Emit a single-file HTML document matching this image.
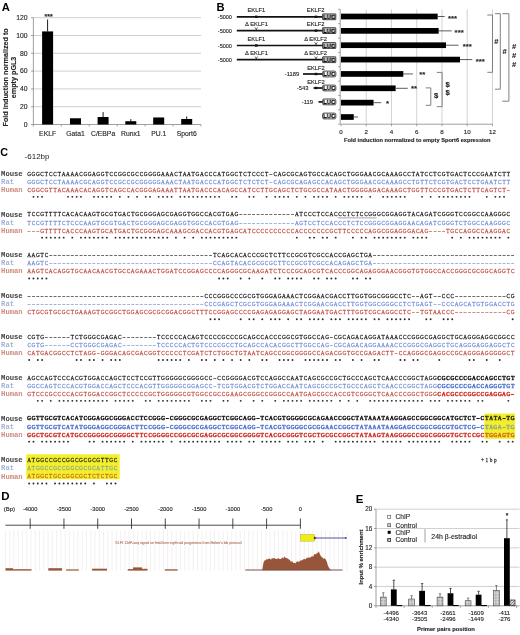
<!DOCTYPE html>
<html><head><meta charset="utf-8"><title>Figure</title>
<style>html,body{margin:0;padding:0;background:#fff;}svg{display:block;will-change:transform;}</style>
</head><body>
<svg width="520" height="635" viewBox="0 0 520 635">
<rect width="520" height="635" fill="#fff"/>
<text x="1.80" y="10.50" font-family="Liberation Sans" font-size="11.2" font-weight="bold" text-anchor="start" fill="#000" >A</text>
<line x1="31.00" y1="124.50" x2="33.40" y2="124.50" stroke="#888" stroke-width="0.8"/>
<text x="27.60" y="126.80" font-family="Liberation Sans" font-size="6.8" font-weight="normal" text-anchor="end" fill="#222"  stroke="#222" stroke-width="0.12">0</text>
<line x1="33.40" y1="106.70" x2="201.00" y2="106.70" stroke="#c4c4c4" stroke-width="0.8"/>
<line x1="31.00" y1="106.70" x2="33.40" y2="106.70" stroke="#888" stroke-width="0.8"/>
<text x="27.60" y="109.00" font-family="Liberation Sans" font-size="6.8" font-weight="normal" text-anchor="end" fill="#222"  stroke="#222" stroke-width="0.12">20</text>
<line x1="33.40" y1="88.90" x2="201.00" y2="88.90" stroke="#c4c4c4" stroke-width="0.8"/>
<line x1="31.00" y1="88.90" x2="33.40" y2="88.90" stroke="#888" stroke-width="0.8"/>
<text x="27.60" y="91.20" font-family="Liberation Sans" font-size="6.8" font-weight="normal" text-anchor="end" fill="#222"  stroke="#222" stroke-width="0.12">40</text>
<line x1="33.40" y1="71.10" x2="201.00" y2="71.10" stroke="#c4c4c4" stroke-width="0.8"/>
<line x1="31.00" y1="71.10" x2="33.40" y2="71.10" stroke="#888" stroke-width="0.8"/>
<text x="27.60" y="73.40" font-family="Liberation Sans" font-size="6.8" font-weight="normal" text-anchor="end" fill="#222"  stroke="#222" stroke-width="0.12">60</text>
<line x1="33.40" y1="53.30" x2="201.00" y2="53.30" stroke="#c4c4c4" stroke-width="0.8"/>
<line x1="31.00" y1="53.30" x2="33.40" y2="53.30" stroke="#888" stroke-width="0.8"/>
<text x="27.60" y="55.60" font-family="Liberation Sans" font-size="6.8" font-weight="normal" text-anchor="end" fill="#222"  stroke="#222" stroke-width="0.12">80</text>
<line x1="33.40" y1="35.50" x2="201.00" y2="35.50" stroke="#c4c4c4" stroke-width="0.8"/>
<line x1="31.00" y1="35.50" x2="33.40" y2="35.50" stroke="#888" stroke-width="0.8"/>
<text x="27.60" y="37.80" font-family="Liberation Sans" font-size="6.8" font-weight="normal" text-anchor="end" fill="#222"  stroke="#222" stroke-width="0.12">100</text>
<line x1="33.40" y1="17.70" x2="201.00" y2="17.70" stroke="#c4c4c4" stroke-width="0.8"/>
<line x1="31.00" y1="17.70" x2="33.40" y2="17.70" stroke="#888" stroke-width="0.8"/>
<text x="27.60" y="20.00" font-family="Liberation Sans" font-size="6.8" font-weight="normal" text-anchor="end" fill="#222"  stroke="#222" stroke-width="0.12">120</text>
<line x1="33.40" y1="17.70" x2="33.40" y2="124.50" stroke="#888" stroke-width="0.8"/>
<line x1="33.40" y1="124.50" x2="201.00" y2="124.50" stroke="#888" stroke-width="0.8"/>
<line x1="33.40" y1="124.50" x2="33.40" y2="126.50" stroke="#888" stroke-width="0.8"/>
<line x1="61.33" y1="124.50" x2="61.33" y2="126.50" stroke="#888" stroke-width="0.8"/>
<line x1="89.26" y1="124.50" x2="89.26" y2="126.50" stroke="#888" stroke-width="0.8"/>
<line x1="117.19" y1="124.50" x2="117.19" y2="126.50" stroke="#888" stroke-width="0.8"/>
<line x1="145.12" y1="124.50" x2="145.12" y2="126.50" stroke="#888" stroke-width="0.8"/>
<line x1="173.05" y1="124.50" x2="173.05" y2="126.50" stroke="#888" stroke-width="0.8"/>
<line x1="200.98" y1="124.50" x2="200.98" y2="126.50" stroke="#888" stroke-width="0.8"/>
<rect x="42.10" y="31.41" width="11.00" height="93.09" fill="#000" />
<line x1="47.60" y1="19.48" x2="47.60" y2="31.41" stroke="#000" stroke-width="0.9"/>
<text x="47.60" y="136.10" font-family="Liberation Sans" font-size="6.8" font-weight="normal" text-anchor="middle" fill="#222"  stroke="#222" stroke-width="0.12">EKLF</text>
<rect x="70.00" y="118.27" width="11.00" height="6.23" fill="#000" />
<text x="75.50" y="136.10" font-family="Liberation Sans" font-size="6.8" font-weight="normal" text-anchor="middle" fill="#222"  stroke="#222" stroke-width="0.12">Gata1</text>
<rect x="97.60" y="117.02" width="11.00" height="7.48" fill="#000" />
<line x1="103.10" y1="112.04" x2="103.10" y2="117.02" stroke="#000" stroke-width="0.9"/>
<text x="103.10" y="136.10" font-family="Liberation Sans" font-size="6.8" font-weight="normal" text-anchor="middle" fill="#222"  stroke="#222" stroke-width="0.12">C/EBPa</text>
<rect x="125.30" y="121.21" width="11.00" height="3.29" fill="#000" />
<line x1="130.80" y1="119.16" x2="130.80" y2="121.21" stroke="#000" stroke-width="0.9"/>
<text x="130.80" y="136.10" font-family="Liberation Sans" font-size="6.8" font-weight="normal" text-anchor="middle" fill="#222"  stroke="#222" stroke-width="0.12">Runx1</text>
<rect x="153.20" y="117.47" width="11.00" height="7.03" fill="#000" />
<text x="158.70" y="136.10" font-family="Liberation Sans" font-size="6.8" font-weight="normal" text-anchor="middle" fill="#222"  stroke="#222" stroke-width="0.12">PU.1</text>
<rect x="181.20" y="118.98" width="11.00" height="5.52" fill="#000" />
<line x1="186.70" y1="116.49" x2="186.70" y2="118.98" stroke="#000" stroke-width="0.9"/>
<text x="186.70" y="136.10" font-family="Liberation Sans" font-size="6.8" font-weight="normal" text-anchor="middle" fill="#222"  stroke="#222" stroke-width="0.12">Sport6</text>
<text x="48.60" y="18.80" font-family="Liberation Sans" font-size="7.0" font-weight="bold" text-anchor="middle" fill="#222"  stroke="#222" stroke-width="0.12">***</text>
<g transform="translate(7.8,77.4) rotate(-90)">
<text x="0.00" y="0.00" font-family="Liberation Sans" font-size="7.2" font-weight="bold" text-anchor="middle" fill="#222"  stroke="#222" stroke-width="0.12">Fold induction normalized to</text>
<text x="0.00" y="8.60" font-family="Liberation Sans" font-size="7.2" font-weight="bold" text-anchor="middle" fill="#222"  stroke="#222" stroke-width="0.12">empty pGL3</text>
</g>
<text x="216.40" y="10.60" font-family="Liberation Sans" font-size="11.2" font-weight="bold" text-anchor="start" fill="#000" >B</text>
<line x1="366.24" y1="9.30" x2="366.24" y2="124.20" stroke="#c8c8c8" stroke-width="0.8"/>
<line x1="391.48" y1="9.30" x2="391.48" y2="124.20" stroke="#c8c8c8" stroke-width="0.8"/>
<line x1="416.72" y1="9.30" x2="416.72" y2="124.20" stroke="#c8c8c8" stroke-width="0.8"/>
<line x1="441.96" y1="9.30" x2="441.96" y2="124.20" stroke="#c8c8c8" stroke-width="0.8"/>
<line x1="467.20" y1="9.30" x2="467.20" y2="124.20" stroke="#c8c8c8" stroke-width="0.8"/>
<line x1="492.44" y1="9.30" x2="492.44" y2="124.20" stroke="#c8c8c8" stroke-width="0.8"/>
<line x1="340.20" y1="9.30" x2="340.20" y2="124.20" stroke="#888" stroke-width="0.8"/>
<line x1="341.00" y1="124.20" x2="492.44" y2="124.20" stroke="#888" stroke-width="0.8"/>
<line x1="338.20" y1="9.30" x2="340.20" y2="9.30" stroke="#888" stroke-width="0.8"/>
<line x1="338.20" y1="23.66" x2="340.20" y2="23.66" stroke="#888" stroke-width="0.8"/>
<line x1="338.20" y1="38.02" x2="340.20" y2="38.02" stroke="#888" stroke-width="0.8"/>
<line x1="338.20" y1="52.38" x2="340.20" y2="52.38" stroke="#888" stroke-width="0.8"/>
<line x1="338.20" y1="66.74" x2="340.20" y2="66.74" stroke="#888" stroke-width="0.8"/>
<line x1="338.20" y1="81.10" x2="340.20" y2="81.10" stroke="#888" stroke-width="0.8"/>
<line x1="338.20" y1="95.46" x2="340.20" y2="95.46" stroke="#888" stroke-width="0.8"/>
<line x1="338.20" y1="109.82" x2="340.20" y2="109.82" stroke="#888" stroke-width="0.8"/>
<line x1="338.20" y1="124.18" x2="340.20" y2="124.18" stroke="#888" stroke-width="0.8"/>
<line x1="341.00" y1="124.20" x2="341.00" y2="126.20" stroke="#888" stroke-width="0.8"/>
<text x="341.00" y="133.60" font-family="Liberation Sans" font-size="6.2" font-weight="normal" text-anchor="middle" fill="#222"  stroke="#222" stroke-width="0.12">0</text>
<line x1="366.24" y1="124.20" x2="366.24" y2="126.20" stroke="#888" stroke-width="0.8"/>
<text x="366.24" y="133.60" font-family="Liberation Sans" font-size="6.2" font-weight="normal" text-anchor="middle" fill="#222"  stroke="#222" stroke-width="0.12">2</text>
<line x1="391.48" y1="124.20" x2="391.48" y2="126.20" stroke="#888" stroke-width="0.8"/>
<text x="391.48" y="133.60" font-family="Liberation Sans" font-size="6.2" font-weight="normal" text-anchor="middle" fill="#222"  stroke="#222" stroke-width="0.12">4</text>
<line x1="416.72" y1="124.20" x2="416.72" y2="126.20" stroke="#888" stroke-width="0.8"/>
<text x="416.72" y="133.60" font-family="Liberation Sans" font-size="6.2" font-weight="normal" text-anchor="middle" fill="#222"  stroke="#222" stroke-width="0.12">6</text>
<line x1="441.96" y1="124.20" x2="441.96" y2="126.20" stroke="#888" stroke-width="0.8"/>
<text x="441.96" y="133.60" font-family="Liberation Sans" font-size="6.2" font-weight="normal" text-anchor="middle" fill="#222"  stroke="#222" stroke-width="0.12">8</text>
<line x1="467.20" y1="124.20" x2="467.20" y2="126.20" stroke="#888" stroke-width="0.8"/>
<text x="467.20" y="133.60" font-family="Liberation Sans" font-size="6.2" font-weight="normal" text-anchor="middle" fill="#222"  stroke="#222" stroke-width="0.12">10</text>
<line x1="492.44" y1="124.20" x2="492.44" y2="126.20" stroke="#888" stroke-width="0.8"/>
<text x="492.44" y="133.60" font-family="Liberation Sans" font-size="6.2" font-weight="normal" text-anchor="middle" fill="#222"  stroke="#222" stroke-width="0.12">12</text>
<text x="417.30" y="142.00" font-family="Liberation Sans" font-size="5.67" font-weight="bold" text-anchor="middle" fill="#222"  stroke="#222" stroke-width="0.12">Fold induction normalized to empty Sport6 expression</text>
<rect x="341.00" y="13.65" width="96.67" height="5.70" fill="#000" />
<line x1="437.67" y1="16.50" x2="444.61" y2="16.50" stroke="#333" stroke-width="0.8"/>
<text x="447.90" y="20.60" font-family="Liberation Sans" font-size="7.8" font-weight="bold" text-anchor="start" fill="#222"  stroke="#222" stroke-width="0.12">***</text>
<rect x="341.00" y="28.01" width="97.68" height="5.70" fill="#000" />
<line x1="438.68" y1="30.86" x2="451.68" y2="30.86" stroke="#333" stroke-width="0.8"/>
<text x="454.60" y="34.96" font-family="Liberation Sans" font-size="7.8" font-weight="bold" text-anchor="start" fill="#222"  stroke="#222" stroke-width="0.12">***</text>
<rect x="341.00" y="42.37" width="105.00" height="5.70" fill="#000" />
<line x1="446.00" y1="45.22" x2="458.49" y2="45.22" stroke="#333" stroke-width="0.8"/>
<text x="462.70" y="49.32" font-family="Liberation Sans" font-size="7.8" font-weight="bold" text-anchor="start" fill="#222"  stroke="#222" stroke-width="0.12">***</text>
<rect x="341.00" y="56.73" width="119.01" height="5.70" fill="#000" />
<line x1="460.01" y1="59.58" x2="472.25" y2="59.58" stroke="#333" stroke-width="0.8"/>
<text x="475.80" y="63.68" font-family="Liberation Sans" font-size="7.8" font-weight="bold" text-anchor="start" fill="#222"  stroke="#222" stroke-width="0.12">***</text>
<rect x="341.00" y="71.09" width="62.34" height="5.70" fill="#000" />
<line x1="403.34" y1="73.94" x2="412.93" y2="73.94" stroke="#333" stroke-width="0.8"/>
<text x="419.20" y="76.84" font-family="Liberation Sans" font-size="7.8" font-weight="bold" text-anchor="start" fill="#222"  stroke="#222" stroke-width="0.12">**</text>
<rect x="341.00" y="85.45" width="54.64" height="5.70" fill="#000" />
<line x1="395.64" y1="88.30" x2="407.76" y2="88.30" stroke="#333" stroke-width="0.8"/>
<text x="411.00" y="91.20" font-family="Liberation Sans" font-size="7.8" font-weight="bold" text-anchor="start" fill="#222"  stroke="#222" stroke-width="0.12">**</text>
<rect x="341.00" y="99.81" width="32.56" height="5.70" fill="#000" />
<line x1="373.56" y1="102.66" x2="381.26" y2="102.66" stroke="#333" stroke-width="0.8"/>
<text x="386.00" y="105.56" font-family="Liberation Sans" font-size="7.8" font-weight="bold" text-anchor="start" fill="#222"  stroke="#222" stroke-width="0.12">*</text>
<rect x="341.00" y="114.17" width="12.75" height="5.70" fill="#000" />
<line x1="353.75" y1="117.02" x2="358.04" y2="117.02" stroke="#333" stroke-width="0.8"/>
<text x="231.90" y="18.80" font-family="Liberation Sans" font-size="5.5" font-weight="normal" text-anchor="end" fill="#222"  stroke="#222" stroke-width="0.12">-5000</text>
<line x1="236.80" y1="16.80" x2="322.60" y2="16.80" stroke="#111" stroke-width="1.7"/>
<text x="256.30" y="12.00" font-family="Liberation Sans" font-size="5.8" font-weight="normal" text-anchor="middle" fill="#222"  stroke="#222" stroke-width="0.12">EKLF1</text>
<rect x="255.00" y="15.60" width="2.60" height="2.40" fill="#111" />
<text x="315.70" y="12.00" font-family="Liberation Sans" font-size="5.8" font-weight="normal" text-anchor="middle" fill="#222"  stroke="#222" stroke-width="0.12">EKLF2</text>
<rect x="314.70" y="15.60" width="2.60" height="2.40" fill="#111" />
<rect x="322.60" y="13.90" width="13.2" height="5.8" rx="0.3" fill="#c4c4c4" stroke="#222" stroke-width="0.8"/>
<text x="329.20" y="19.00" font-family="Liberation Sans" font-size="6.0" font-weight="bold" text-anchor="middle" fill="#f4f4f4" stroke="#111" stroke-width="0.55">LUC</text>
<text x="231.90" y="32.60" font-family="Liberation Sans" font-size="5.5" font-weight="normal" text-anchor="end" fill="#222"  stroke="#222" stroke-width="0.12">-5000</text>
<line x1="236.80" y1="30.60" x2="322.60" y2="30.60" stroke="#111" stroke-width="1.7"/>
<text x="245.00" y="26.30" font-family="Liberation Sans" font-size="5.8" font-weight="normal" text-anchor="start" fill="#222"  stroke="#222" stroke-width="0.12">Δ EKLF1</text>
<polyline points="255.00,27.40 256.30,29.40 257.60,27.40" fill="none" stroke="#222" stroke-width="0.7"/>
<line x1="256.30" y1="29.00" x2="256.30" y2="30.00" stroke="#222" stroke-width="0.7"/>
<text x="315.70" y="25.80" font-family="Liberation Sans" font-size="5.8" font-weight="normal" text-anchor="middle" fill="#222"  stroke="#222" stroke-width="0.12">EKLF2</text>
<rect x="314.70" y="29.40" width="2.60" height="2.40" fill="#111" />
<rect x="322.60" y="27.70" width="13.2" height="5.8" rx="0.3" fill="#c4c4c4" stroke="#222" stroke-width="0.8"/>
<text x="329.20" y="32.80" font-family="Liberation Sans" font-size="6.0" font-weight="bold" text-anchor="middle" fill="#f4f4f4" stroke="#111" stroke-width="0.55">LUC</text>
<text x="231.90" y="47.50" font-family="Liberation Sans" font-size="5.5" font-weight="normal" text-anchor="end" fill="#222"  stroke="#222" stroke-width="0.12">-5000</text>
<line x1="236.80" y1="45.50" x2="322.60" y2="45.50" stroke="#111" stroke-width="1.7"/>
<text x="256.30" y="40.70" font-family="Liberation Sans" font-size="5.8" font-weight="normal" text-anchor="middle" fill="#222"  stroke="#222" stroke-width="0.12">EKLF1</text>
<rect x="255.00" y="44.30" width="2.60" height="2.40" fill="#111" />
<text x="304.20" y="41.20" font-family="Liberation Sans" font-size="5.8" font-weight="normal" text-anchor="start" fill="#222"  stroke="#222" stroke-width="0.12">Δ EKLF2</text>
<polyline points="314.70,42.30 316.00,44.30 317.30,42.30" fill="none" stroke="#222" stroke-width="0.7"/>
<line x1="316.00" y1="43.90" x2="316.00" y2="44.90" stroke="#222" stroke-width="0.7"/>
<rect x="322.60" y="42.60" width="13.2" height="5.8" rx="0.3" fill="#c4c4c4" stroke="#222" stroke-width="0.8"/>
<text x="329.20" y="47.70" font-family="Liberation Sans" font-size="6.0" font-weight="bold" text-anchor="middle" fill="#f4f4f4" stroke="#111" stroke-width="0.55">LUC</text>
<text x="231.90" y="61.70" font-family="Liberation Sans" font-size="5.5" font-weight="normal" text-anchor="end" fill="#222"  stroke="#222" stroke-width="0.12">-5000</text>
<line x1="236.80" y1="59.70" x2="322.60" y2="59.70" stroke="#111" stroke-width="1.7"/>
<text x="245.00" y="55.40" font-family="Liberation Sans" font-size="5.8" font-weight="normal" text-anchor="start" fill="#222"  stroke="#222" stroke-width="0.12">Δ EKLF1</text>
<polyline points="255.00,56.50 256.30,58.50 257.60,56.50" fill="none" stroke="#222" stroke-width="0.7"/>
<line x1="256.30" y1="58.10" x2="256.30" y2="59.10" stroke="#222" stroke-width="0.7"/>
<text x="304.20" y="55.40" font-family="Liberation Sans" font-size="5.8" font-weight="normal" text-anchor="start" fill="#222"  stroke="#222" stroke-width="0.12">Δ EKLF2</text>
<polyline points="314.70,56.50 316.00,58.50 317.30,56.50" fill="none" stroke="#222" stroke-width="0.7"/>
<line x1="316.00" y1="58.10" x2="316.00" y2="59.10" stroke="#222" stroke-width="0.7"/>
<rect x="322.60" y="56.80" width="13.2" height="5.8" rx="0.3" fill="#c4c4c4" stroke="#222" stroke-width="0.8"/>
<text x="329.20" y="61.90" font-family="Liberation Sans" font-size="6.0" font-weight="bold" text-anchor="middle" fill="#f4f4f4" stroke="#111" stroke-width="0.55">LUC</text>
<text x="299.20" y="76.10" font-family="Liberation Sans" font-size="5.8" font-weight="normal" text-anchor="end" fill="#222"  stroke="#222" stroke-width="0.12">-1189</text>
<line x1="303.00" y1="74.00" x2="322.60" y2="74.00" stroke="#111" stroke-width="1.7"/>
<text x="316.00" y="69.70" font-family="Liberation Sans" font-size="5.8" font-weight="normal" text-anchor="middle" fill="#222"  stroke="#222" stroke-width="0.12">EKLF2</text>
<rect x="314.70" y="72.80" width="2.60" height="2.40" fill="#111" />
<rect x="322.60" y="71.10" width="13.2" height="5.8" rx="1.3" fill="#fff" stroke="#222" stroke-width="0.8"/>
<text x="329.20" y="76.20" font-family="Liberation Sans" font-size="6.0" font-weight="bold" text-anchor="middle" fill="#f4f4f4" stroke="#111" stroke-width="0.55">LUC</text>
<text x="308.50" y="90.10" font-family="Liberation Sans" font-size="5.8" font-weight="normal" text-anchor="end" fill="#222"  stroke="#222" stroke-width="0.12">-543</text>
<line x1="313.50" y1="88.00" x2="322.60" y2="88.00" stroke="#111" stroke-width="1.7"/>
<text x="316.00" y="83.70" font-family="Liberation Sans" font-size="5.8" font-weight="normal" text-anchor="middle" fill="#222"  stroke="#222" stroke-width="0.12">EKLF2</text>
<rect x="314.70" y="86.80" width="2.60" height="2.40" fill="#111" />
<rect x="322.60" y="85.10" width="13.2" height="5.8" rx="1.3" fill="#fff" stroke="#222" stroke-width="0.8"/>
<text x="329.20" y="90.20" font-family="Liberation Sans" font-size="6.0" font-weight="bold" text-anchor="middle" fill="#f4f4f4" stroke="#111" stroke-width="0.55">LUC</text>
<text x="313.00" y="104.00" font-family="Liberation Sans" font-size="5.8" font-weight="normal" text-anchor="end" fill="#222"  stroke="#222" stroke-width="0.12">-119</text>
<line x1="318.50" y1="101.90" x2="322.60" y2="101.90" stroke="#111" stroke-width="1.7"/>
<rect x="322.60" y="99.00" width="13.2" height="5.8" rx="1.3" fill="#fff" stroke="#222" stroke-width="0.8"/>
<text x="329.20" y="104.10" font-family="Liberation Sans" font-size="6.0" font-weight="bold" text-anchor="middle" fill="#f4f4f4" stroke="#111" stroke-width="0.55">LUC</text>
<rect x="322.60" y="113.10" width="13.2" height="5.8" rx="1.3" fill="#fff" stroke="#222" stroke-width="0.8"/>
<text x="329.20" y="118.20" font-family="Liberation Sans" font-size="6.0" font-weight="bold" text-anchor="middle" fill="#f4f4f4" stroke="#111" stroke-width="0.55">LUC</text>
<polyline points="487.30,15.00 492.50,15.00 492.50,72.30 487.30,72.30" fill="none" stroke="#808080" stroke-width="1.0"/>
<text x="496.30" y="43.74" font-family="Liberation Sans" font-size="7.6" font-weight="bold" text-anchor="middle" fill="#222"  stroke="#222" stroke-width="0.12">#</text>
<polyline points="495.00,13.70 500.30,13.70 500.30,89.20 495.00,89.20" fill="none" stroke="#808080" stroke-width="1.0"/>
<text x="504.50" y="53.64" font-family="Liberation Sans" font-size="7.6" font-weight="bold" text-anchor="middle" fill="#222"  stroke="#222" stroke-width="0.12">#</text>
<polyline points="502.30,13.70 508.90,13.70 508.90,101.20 502.30,101.20" fill="none" stroke="#808080" stroke-width="1.0"/>
<text x="514.10" y="49.44" font-family="Liberation Sans" font-size="7.6" font-weight="bold" text-anchor="middle" fill="#222"  stroke="#222" stroke-width="0.12">#</text>
<text x="514.10" y="58.24" font-family="Liberation Sans" font-size="7.6" font-weight="bold" text-anchor="middle" fill="#222"  stroke="#222" stroke-width="0.12">#</text>
<text x="514.10" y="66.74" font-family="Liberation Sans" font-size="7.6" font-weight="bold" text-anchor="middle" fill="#222"  stroke="#222" stroke-width="0.12">#</text>
<polyline points="425.70,87.90 430.80,87.90 430.80,105.30 425.70,105.30" fill="none" stroke="#808080" stroke-width="1.0"/>
<text x="436.20" y="98.41" font-family="Liberation Sans" font-size="7.8" font-weight="bold" text-anchor="middle" fill="#222"  stroke="#222" stroke-width="0.12">$</text>
<polyline points="436.80,72.40 442.10,72.40 442.10,106.70 436.80,106.70" fill="none" stroke="#808080" stroke-width="1.0"/>
<text x="447.60" y="86.71" font-family="Liberation Sans" font-size="7.8" font-weight="bold" text-anchor="middle" fill="#222"  stroke="#222" stroke-width="0.12">$</text>
<text x="447.60" y="95.41" font-family="Liberation Sans" font-size="7.8" font-weight="bold" text-anchor="middle" fill="#222"  stroke="#222" stroke-width="0.12">$</text>
<text x="0.2" y="155.6" font-family="Liberation Sans" font-size="10.8" font-weight="bold">C</text>
<text x="24.6" y="159.4" font-family="Liberation Sans" font-size="8.0" fill="#222">-612bp</text>
<rect x="484.30" y="413.5" width="30.82" height="25.3" fill="#f2f02c"/>
<rect x="26.3" y="454.3" width="93.4" height="25.0" fill="#f2f02c"/>
<text x="1.10" y="175.70" font-family="Liberation Mono" font-size="7.194" font-weight="bold" fill="#3c3c3c">Mouse</text>
<text transform="scale(0.82,1)" x="35.56 40.82 46.09 51.35 56.62 61.88 67.15 72.41 77.68 82.94 88.21 93.47 98.73 104.00 109.26 114.53 119.79 125.06 130.32 135.59 140.85 146.12 151.38 156.65 161.91 167.18 172.44 177.70 182.97 188.23 193.50 198.76 204.03 209.29 214.56 219.82 225.09 230.35 235.62 240.88 246.14 251.41 256.67 261.94 267.20 272.47 277.73 283.00 288.26 293.53 298.79 304.06 309.32 314.58 319.85 325.11 330.38 335.64 340.91 346.17 351.44 356.70 361.97 367.23 372.50 377.76 383.03 388.29 393.55 398.82 404.08 409.35 414.61 419.88 425.14 430.41 435.67 440.94 446.20 451.47 456.73 461.99 467.26 472.52 477.79 483.05 488.32 493.58 498.85 504.11 509.38 514.64 519.91 525.17 530.43 535.70 540.96 546.23 551.49 556.76 562.02 567.29 572.55 577.82 583.08 588.35 593.61 598.88 604.14 609.40 614.67 619.93" y="175.70" font-family="Liberation Serif" font-size="6.4" font-weight="normal" text-anchor="middle" fill="#222222" stroke="#222222" stroke-width="0.25">GGGCTCCTAAAACGGAGGTCCGGCGCCGGGGAAACTAATGACCCATGGCTCTCCCT–CAGCGCAGTGCCACAGCTGGGAACGCAAAGCCTATCCTCGTGACTCCCGAATCTT</text>
<text x="1.10" y="183.75" font-family="Liberation Mono" font-size="7.194" font-weight="bold" fill="#a2b3d6">Rat</text>
<text transform="scale(0.82,1)" x="35.56 40.82 46.09 51.35 56.62 61.88 67.15 72.41 77.68 82.94 88.21 93.47 98.73 104.00 109.26 114.53 119.79 125.06 130.32 135.59 140.85 146.12 151.38 156.65 161.91 167.18 172.44 177.70 182.97 188.23 193.50 198.76 204.03 209.29 214.56 219.82 225.09 230.35 235.62 240.88 246.14 251.41 256.67 261.94 267.20 272.47 277.73 283.00 288.26 293.53 298.79 304.06 309.32 314.58 319.85 325.11 330.38 335.64 340.91 346.17 351.44 356.70 361.97 367.23 372.50 377.76 383.03 388.29 393.55 398.82 404.08 409.35 414.61 419.88 425.14 430.41 435.67 440.94 446.20 451.47 456.73 461.99 467.26 472.52 477.79 483.05 488.32 493.58 498.85 504.11 509.38 514.64 519.91 525.17 530.43 535.70 540.96 546.23 551.49 556.76 562.02 567.29 572.55 577.82 583.08 588.35 593.61 598.88 604.14 609.40 614.67 619.93" y="183.75" font-family="Liberation Serif" font-size="6.4" font-weight="normal" text-anchor="middle" fill="#7592d6" stroke="#7592d6" stroke-width="0.25">GGGCTCCTAAAACGCAGGTCCGCCGCGGGGGAAACTAATGACCCATGGCTCTCTCT–CAGCGCAGAGCCACAGCTGGGAACGCAAAGCCTGTTCTCGTGACTCCTGAATCTT</text>
<text x="1.10" y="191.80" font-family="Liberation Mono" font-size="7.194" font-weight="bold" fill="#cf8a7e">Human</text>
<text transform="scale(0.82,1)" x="35.56 40.82 46.09 51.35 56.62 61.88 67.15 72.41 77.68 82.94 88.21 93.47 98.73 104.00 109.26 114.53 119.79 125.06 130.32 135.59 140.85 146.12 151.38 156.65 161.91 167.18 172.44 177.70 182.97 188.23 193.50 198.76 204.03 209.29 214.56 219.82 225.09 230.35 235.62 240.88 246.14 251.41 256.67 261.94 267.20 272.47 277.73 283.00 288.26 293.53 298.79 304.06 309.32 314.58 319.85 325.11 330.38 335.64 340.91 346.17 351.44 356.70 361.97 367.23 372.50 377.76 383.03 388.29 393.55 398.82 404.08 409.35 414.61 419.88 425.14 430.41 435.67 440.94 446.20 451.47 456.73 461.99 467.26 472.52 477.79 483.05 488.32 493.58 498.85 504.11 509.38 514.64 519.91 525.17 530.43 535.70 540.96 546.23 551.49 556.76 562.02 567.29 572.55 577.82 583.08 588.35 593.61 598.88 604.14 609.40 614.67 619.93" y="191.80" font-family="Liberation Serif" font-size="6.4" font-weight="normal" text-anchor="middle" fill="#c0554b" stroke="#c0554b" stroke-width="0.25">CGGCGTTACAAACACAGGTCAGCCACGGGAGAAATTAATGACCCACAGCCATCCTTGCAGCTCTGCGCCATAACTGGGGAGACAAAGCTGGTTCCCGTGACTCTTCAGTCT–</text>
<circle cx="33.48" cy="196.85" r="0.95" fill="#2a2a2a"/>
<circle cx="37.79" cy="196.85" r="0.95" fill="#2a2a2a"/>
<circle cx="42.11" cy="196.85" r="0.95" fill="#2a2a2a"/>
<circle cx="68.01" cy="196.85" r="0.95" fill="#2a2a2a"/>
<circle cx="72.33" cy="196.85" r="0.95" fill="#2a2a2a"/>
<circle cx="76.65" cy="196.85" r="0.95" fill="#2a2a2a"/>
<circle cx="80.96" cy="196.85" r="0.95" fill="#2a2a2a"/>
<circle cx="93.91" cy="196.85" r="0.95" fill="#2a2a2a"/>
<circle cx="98.23" cy="196.85" r="0.95" fill="#2a2a2a"/>
<circle cx="102.55" cy="196.85" r="0.95" fill="#2a2a2a"/>
<circle cx="106.86" cy="196.85" r="0.95" fill="#2a2a2a"/>
<circle cx="111.18" cy="196.85" r="0.95" fill="#2a2a2a"/>
<circle cx="119.82" cy="196.85" r="0.95" fill="#2a2a2a"/>
<circle cx="128.45" cy="196.85" r="0.95" fill="#2a2a2a"/>
<circle cx="137.08" cy="196.85" r="0.95" fill="#2a2a2a"/>
<circle cx="145.72" cy="196.85" r="0.95" fill="#2a2a2a"/>
<circle cx="150.03" cy="196.85" r="0.95" fill="#2a2a2a"/>
<circle cx="158.67" cy="196.85" r="0.95" fill="#2a2a2a"/>
<circle cx="162.99" cy="196.85" r="0.95" fill="#2a2a2a"/>
<circle cx="167.30" cy="196.85" r="0.95" fill="#2a2a2a"/>
<circle cx="171.62" cy="196.85" r="0.95" fill="#2a2a2a"/>
<circle cx="180.25" cy="196.85" r="0.95" fill="#2a2a2a"/>
<circle cx="184.57" cy="196.85" r="0.95" fill="#2a2a2a"/>
<circle cx="188.89" cy="196.85" r="0.95" fill="#2a2a2a"/>
<circle cx="193.20" cy="196.85" r="0.95" fill="#2a2a2a"/>
<circle cx="197.52" cy="196.85" r="0.95" fill="#2a2a2a"/>
<circle cx="201.84" cy="196.85" r="0.95" fill="#2a2a2a"/>
<circle cx="206.16" cy="196.85" r="0.95" fill="#2a2a2a"/>
<circle cx="210.47" cy="196.85" r="0.95" fill="#2a2a2a"/>
<circle cx="214.79" cy="196.85" r="0.95" fill="#2a2a2a"/>
<circle cx="219.11" cy="196.85" r="0.95" fill="#2a2a2a"/>
<circle cx="232.06" cy="196.85" r="0.95" fill="#2a2a2a"/>
<circle cx="236.37" cy="196.85" r="0.95" fill="#2a2a2a"/>
<circle cx="249.33" cy="196.85" r="0.95" fill="#2a2a2a"/>
<circle cx="253.64" cy="196.85" r="0.95" fill="#2a2a2a"/>
<circle cx="266.59" cy="196.85" r="0.95" fill="#2a2a2a"/>
<circle cx="275.23" cy="196.85" r="0.95" fill="#2a2a2a"/>
<circle cx="279.54" cy="196.85" r="0.95" fill="#2a2a2a"/>
<circle cx="283.86" cy="196.85" r="0.95" fill="#2a2a2a"/>
<circle cx="288.18" cy="196.85" r="0.95" fill="#2a2a2a"/>
<circle cx="296.81" cy="196.85" r="0.95" fill="#2a2a2a"/>
<circle cx="305.45" cy="196.85" r="0.95" fill="#2a2a2a"/>
<circle cx="314.08" cy="196.85" r="0.95" fill="#2a2a2a"/>
<circle cx="318.40" cy="196.85" r="0.95" fill="#2a2a2a"/>
<circle cx="322.71" cy="196.85" r="0.95" fill="#2a2a2a"/>
<circle cx="327.03" cy="196.85" r="0.95" fill="#2a2a2a"/>
<circle cx="335.67" cy="196.85" r="0.95" fill="#2a2a2a"/>
<circle cx="344.30" cy="196.85" r="0.95" fill="#2a2a2a"/>
<circle cx="348.62" cy="196.85" r="0.95" fill="#2a2a2a"/>
<circle cx="352.93" cy="196.85" r="0.95" fill="#2a2a2a"/>
<circle cx="357.25" cy="196.85" r="0.95" fill="#2a2a2a"/>
<circle cx="361.57" cy="196.85" r="0.95" fill="#2a2a2a"/>
<circle cx="370.20" cy="196.85" r="0.95" fill="#2a2a2a"/>
<circle cx="383.15" cy="196.85" r="0.95" fill="#2a2a2a"/>
<circle cx="387.47" cy="196.85" r="0.95" fill="#2a2a2a"/>
<circle cx="391.79" cy="196.85" r="0.95" fill="#2a2a2a"/>
<circle cx="396.10" cy="196.85" r="0.95" fill="#2a2a2a"/>
<circle cx="400.42" cy="196.85" r="0.95" fill="#2a2a2a"/>
<circle cx="404.74" cy="196.85" r="0.95" fill="#2a2a2a"/>
<circle cx="422.01" cy="196.85" r="0.95" fill="#2a2a2a"/>
<circle cx="430.64" cy="196.85" r="0.95" fill="#2a2a2a"/>
<circle cx="439.27" cy="196.85" r="0.95" fill="#2a2a2a"/>
<circle cx="443.59" cy="196.85" r="0.95" fill="#2a2a2a"/>
<circle cx="447.91" cy="196.85" r="0.95" fill="#2a2a2a"/>
<circle cx="452.22" cy="196.85" r="0.95" fill="#2a2a2a"/>
<circle cx="456.54" cy="196.85" r="0.95" fill="#2a2a2a"/>
<circle cx="460.86" cy="196.85" r="0.95" fill="#2a2a2a"/>
<circle cx="465.18" cy="196.85" r="0.95" fill="#2a2a2a"/>
<circle cx="469.49" cy="196.85" r="0.95" fill="#2a2a2a"/>
<circle cx="486.76" cy="196.85" r="0.95" fill="#2a2a2a"/>
<circle cx="495.39" cy="196.85" r="0.95" fill="#2a2a2a"/>
<circle cx="499.71" cy="196.85" r="0.95" fill="#2a2a2a"/>
<circle cx="504.03" cy="196.85" r="0.95" fill="#2a2a2a"/>
<text x="1.10" y="216.50" font-family="Liberation Mono" font-size="7.194" font-weight="bold" fill="#3c3c3c">Mouse</text>
<text transform="scale(0.82,1)" x="35.56 40.82 46.09 51.35 56.62 61.88 67.15 72.41 77.68 82.94 88.21 93.47 98.73 104.00 109.26 114.53 119.79 125.06 130.32 135.59 140.85 146.12 151.38 156.65 161.91 167.18 172.44 177.70 182.97 188.23 193.50 198.76 204.03 209.29 214.56 219.82 225.09 230.35 235.62 240.88 246.14 251.41 256.67 261.94 267.20 272.47 277.73 283.00 288.26 293.53 298.79 304.06 309.32 314.58 319.85 325.11 330.38 335.64 340.91 346.17 351.44 356.70 361.97 367.23 372.50 377.76 383.03 388.29 393.55 398.82 404.08 409.35 414.61 419.88 425.14 430.41 435.67 440.94 446.20 451.47 456.73 461.99 467.26 472.52 477.79 483.05 488.32 493.58 498.85 504.11 509.38 514.64 519.91 525.17 530.43 535.70 540.96 546.23 551.49 556.76 562.02 567.29 572.55 577.82 583.08 588.35 593.61 598.88 604.14 609.40 614.67 619.93" y="216.50" font-family="Liberation Serif" font-size="6.4" font-weight="normal" text-anchor="middle" fill="#222222" stroke="#222222" stroke-width="0.25">TCCGTTTTCACACAAGTGCGTGACTGCGGGAGCGAGGTGGCCACGTGAG–––––––––––––ATCCCTCCACCCTCTCCGGGCGGAGGTACAGATCGGGTCCGGCCAAGGGC</text>
<text x="1.10" y="224.55" font-family="Liberation Mono" font-size="7.194" font-weight="bold" fill="#a2b3d6">Rat</text>
<text transform="scale(0.82,1)" x="35.56 40.82 46.09 51.35 56.62 61.88 67.15 72.41 77.68 82.94 88.21 93.47 98.73 104.00 109.26 114.53 119.79 125.06 130.32 135.59 140.85 146.12 151.38 156.65 161.91 167.18 172.44 177.70 182.97 188.23 193.50 198.76 204.03 209.29 214.56 219.82 225.09 230.35 235.62 240.88 246.14 251.41 256.67 261.94 267.20 272.47 277.73 283.00 288.26 293.53 298.79 304.06 309.32 314.58 319.85 325.11 330.38 335.64 340.91 346.17 351.44 356.70 361.97 367.23 372.50 377.76 383.03 388.29 393.55 398.82 404.08 409.35 414.61 419.88 425.14 430.41 435.67 440.94 446.20 451.47 456.73 461.99 467.26 472.52 477.79 483.05 488.32 493.58 498.85 504.11 509.38 514.64 519.91 525.17 530.43 535.70 540.96 546.23 551.49 556.76 562.02 567.29 572.55 577.82 583.08 588.35 593.61 598.88 604.14 609.40 614.67 619.93" y="224.55" font-family="Liberation Serif" font-size="6.4" font-weight="normal" text-anchor="middle" fill="#7592d6" stroke="#7592d6" stroke-width="0.25">TCCGTTTTCTCCCAAGTGCGTGACTGCGGGAGCGAGGTGGCCACGTGAG–––––––––––––AGTCCTCCACCCTCTCCGGGCGGAGGAACAGATCGGGTCTGGCCAAGGGC</text>
<text x="1.10" y="232.60" font-family="Liberation Mono" font-size="7.194" font-weight="bold" fill="#cf8a7e">Human</text>
<text transform="scale(0.82,1)" x="35.56 40.82 46.09 51.35 56.62 61.88 67.15 72.41 77.68 82.94 88.21 93.47 98.73 104.00 109.26 114.53 119.79 125.06 130.32 135.59 140.85 146.12 151.38 156.65 161.91 167.18 172.44 177.70 182.97 188.23 193.50 198.76 204.03 209.29 214.56 219.82 225.09 230.35 235.62 240.88 246.14 251.41 256.67 261.94 267.20 272.47 277.73 283.00 288.26 293.53 298.79 304.06 309.32 314.58 319.85 325.11 330.38 335.64 340.91 346.17 351.44 356.70 361.97 367.23 372.50 377.76 383.03 388.29 393.55 398.82 404.08 409.35 414.61 419.88 425.14 430.41 435.67 440.94 446.20 451.47 456.73 461.99 467.26 472.52 477.79 483.05 488.32 493.58 498.85 504.11 509.38 514.64 519.91 525.17 530.43 535.70 540.96 546.23 551.49 556.76 562.02 567.29 572.55 577.82 583.08 588.35 593.61 598.88 604.14 609.40 614.67 619.93" y="232.60" font-family="Liberation Serif" font-size="6.4" font-weight="normal" text-anchor="middle" fill="#c0554b" stroke="#c0554b" stroke-width="0.25">–––GTTTTCACCCAAGTGCATGACTGCGGGAGCAAAGCGACCACGTGAGCATCCCCCCCCCCACCCCCCCGCTTCCCCCAGGCGGAGGGACAG––––TGCCAGGCCAAGGAC</text>
<circle cx="42.11" cy="237.65" r="0.95" fill="#2a2a2a"/>
<circle cx="46.43" cy="237.65" r="0.95" fill="#2a2a2a"/>
<circle cx="50.74" cy="237.65" r="0.95" fill="#2a2a2a"/>
<circle cx="55.06" cy="237.65" r="0.95" fill="#2a2a2a"/>
<circle cx="59.38" cy="237.65" r="0.95" fill="#2a2a2a"/>
<circle cx="63.69" cy="237.65" r="0.95" fill="#2a2a2a"/>
<circle cx="72.33" cy="237.65" r="0.95" fill="#2a2a2a"/>
<circle cx="80.96" cy="237.65" r="0.95" fill="#2a2a2a"/>
<circle cx="85.28" cy="237.65" r="0.95" fill="#2a2a2a"/>
<circle cx="89.60" cy="237.65" r="0.95" fill="#2a2a2a"/>
<circle cx="93.91" cy="237.65" r="0.95" fill="#2a2a2a"/>
<circle cx="98.23" cy="237.65" r="0.95" fill="#2a2a2a"/>
<circle cx="102.55" cy="237.65" r="0.95" fill="#2a2a2a"/>
<circle cx="106.86" cy="237.65" r="0.95" fill="#2a2a2a"/>
<circle cx="115.50" cy="237.65" r="0.95" fill="#2a2a2a"/>
<circle cx="119.82" cy="237.65" r="0.95" fill="#2a2a2a"/>
<circle cx="124.13" cy="237.65" r="0.95" fill="#2a2a2a"/>
<circle cx="128.45" cy="237.65" r="0.95" fill="#2a2a2a"/>
<circle cx="132.77" cy="237.65" r="0.95" fill="#2a2a2a"/>
<circle cx="137.08" cy="237.65" r="0.95" fill="#2a2a2a"/>
<circle cx="141.40" cy="237.65" r="0.95" fill="#2a2a2a"/>
<circle cx="145.72" cy="237.65" r="0.95" fill="#2a2a2a"/>
<circle cx="150.03" cy="237.65" r="0.95" fill="#2a2a2a"/>
<circle cx="154.35" cy="237.65" r="0.95" fill="#2a2a2a"/>
<circle cx="158.67" cy="237.65" r="0.95" fill="#2a2a2a"/>
<circle cx="162.99" cy="237.65" r="0.95" fill="#2a2a2a"/>
<circle cx="167.30" cy="237.65" r="0.95" fill="#2a2a2a"/>
<circle cx="175.94" cy="237.65" r="0.95" fill="#2a2a2a"/>
<circle cx="184.57" cy="237.65" r="0.95" fill="#2a2a2a"/>
<circle cx="193.20" cy="237.65" r="0.95" fill="#2a2a2a"/>
<circle cx="201.84" cy="237.65" r="0.95" fill="#2a2a2a"/>
<circle cx="206.16" cy="237.65" r="0.95" fill="#2a2a2a"/>
<circle cx="210.47" cy="237.65" r="0.95" fill="#2a2a2a"/>
<circle cx="214.79" cy="237.65" r="0.95" fill="#2a2a2a"/>
<circle cx="219.11" cy="237.65" r="0.95" fill="#2a2a2a"/>
<circle cx="223.42" cy="237.65" r="0.95" fill="#2a2a2a"/>
<circle cx="227.74" cy="237.65" r="0.95" fill="#2a2a2a"/>
<circle cx="232.06" cy="237.65" r="0.95" fill="#2a2a2a"/>
<circle cx="236.37" cy="237.65" r="0.95" fill="#2a2a2a"/>
<circle cx="296.81" cy="237.65" r="0.95" fill="#2a2a2a"/>
<circle cx="309.76" cy="237.65" r="0.95" fill="#2a2a2a"/>
<circle cx="314.08" cy="237.65" r="0.95" fill="#2a2a2a"/>
<circle cx="322.71" cy="237.65" r="0.95" fill="#2a2a2a"/>
<circle cx="327.03" cy="237.65" r="0.95" fill="#2a2a2a"/>
<circle cx="335.67" cy="237.65" r="0.95" fill="#2a2a2a"/>
<circle cx="352.93" cy="237.65" r="0.95" fill="#2a2a2a"/>
<circle cx="361.57" cy="237.65" r="0.95" fill="#2a2a2a"/>
<circle cx="365.88" cy="237.65" r="0.95" fill="#2a2a2a"/>
<circle cx="374.52" cy="237.65" r="0.95" fill="#2a2a2a"/>
<circle cx="378.84" cy="237.65" r="0.95" fill="#2a2a2a"/>
<circle cx="383.15" cy="237.65" r="0.95" fill="#2a2a2a"/>
<circle cx="387.47" cy="237.65" r="0.95" fill="#2a2a2a"/>
<circle cx="391.79" cy="237.65" r="0.95" fill="#2a2a2a"/>
<circle cx="396.10" cy="237.65" r="0.95" fill="#2a2a2a"/>
<circle cx="400.42" cy="237.65" r="0.95" fill="#2a2a2a"/>
<circle cx="404.74" cy="237.65" r="0.95" fill="#2a2a2a"/>
<circle cx="413.37" cy="237.65" r="0.95" fill="#2a2a2a"/>
<circle cx="417.69" cy="237.65" r="0.95" fill="#2a2a2a"/>
<circle cx="422.01" cy="237.65" r="0.95" fill="#2a2a2a"/>
<circle cx="426.32" cy="237.65" r="0.95" fill="#2a2a2a"/>
<circle cx="452.22" cy="237.65" r="0.95" fill="#2a2a2a"/>
<circle cx="460.86" cy="237.65" r="0.95" fill="#2a2a2a"/>
<circle cx="469.49" cy="237.65" r="0.95" fill="#2a2a2a"/>
<circle cx="473.81" cy="237.65" r="0.95" fill="#2a2a2a"/>
<circle cx="478.13" cy="237.65" r="0.95" fill="#2a2a2a"/>
<circle cx="482.44" cy="237.65" r="0.95" fill="#2a2a2a"/>
<circle cx="486.76" cy="237.65" r="0.95" fill="#2a2a2a"/>
<circle cx="491.08" cy="237.65" r="0.95" fill="#2a2a2a"/>
<circle cx="495.39" cy="237.65" r="0.95" fill="#2a2a2a"/>
<circle cx="499.71" cy="237.65" r="0.95" fill="#2a2a2a"/>
<circle cx="508.35" cy="237.65" r="0.95" fill="#2a2a2a"/>
<text x="1.10" y="257.30" font-family="Liberation Mono" font-size="7.194" font-weight="bold" fill="#3c3c3c">Mouse</text>
<text transform="scale(0.82,1)" x="35.56 40.82 46.09 51.35 56.62 61.88 67.15 72.41 77.68 82.94 88.21 93.47 98.73 104.00 109.26 114.53 119.79 125.06 130.32 135.59 140.85 146.12 151.38 156.65 161.91 167.18 172.44 177.70 182.97 188.23 193.50 198.76 204.03 209.29 214.56 219.82 225.09 230.35 235.62 240.88 246.14 251.41 256.67 261.94 267.20 272.47 277.73 283.00 288.26 293.53 298.79 304.06 309.32 314.58 319.85 325.11 330.38 335.64 340.91 346.17 351.44 356.70 361.97 367.23 372.50 377.76 383.03 388.29 393.55 398.82 404.08 409.35 414.61 419.88 425.14 430.41 435.67 440.94 446.20 451.47 456.73 461.99 467.26 472.52 477.79 483.05 488.32 493.58 498.85 504.11 509.38 514.64 519.91 525.17 530.43 535.70 540.96 546.23 551.49 556.76 562.02 567.29 572.55 577.82 583.08 588.35 593.61 598.88 604.14 609.40 614.67 619.93 625.20" y="257.30" font-family="Liberation Serif" font-size="6.4" font-weight="normal" text-anchor="middle" fill="#222222" stroke="#222222" stroke-width="0.25">AAGTC––––––––––––––––––––––––––––––––––––––TCAGCACACCCGCTCTTCCGCGTCGCCACCGAGCTGA–––––––––––––––––––––––––––––––––</text>
<text x="1.10" y="265.35" font-family="Liberation Mono" font-size="7.194" font-weight="bold" fill="#a2b3d6">Rat</text>
<text transform="scale(0.82,1)" x="35.56 40.82 46.09 51.35 56.62 61.88 67.15 72.41 77.68 82.94 88.21 93.47 98.73 104.00 109.26 114.53 119.79 125.06 130.32 135.59 140.85 146.12 151.38 156.65 161.91 167.18 172.44 177.70 182.97 188.23 193.50 198.76 204.03 209.29 214.56 219.82 225.09 230.35 235.62 240.88 246.14 251.41 256.67 261.94 267.20 272.47 277.73 283.00 288.26 293.53 298.79 304.06 309.32 314.58 319.85 325.11 330.38 335.64 340.91 346.17 351.44 356.70 361.97 367.23 372.50 377.76 383.03 388.29 393.55 398.82 404.08 409.35 414.61 419.88 425.14 430.41 435.67 440.94 446.20 451.47 456.73 461.99 467.26 472.52 477.79 483.05 488.32 493.58 498.85 504.11 509.38 514.64 519.91 525.17 530.43 535.70 540.96 546.23 551.49 556.76 562.02 567.29 572.55 577.82 583.08 588.35 593.61 598.88 604.14 609.40 614.67 619.93 625.20" y="265.35" font-family="Liberation Serif" font-size="6.4" font-weight="normal" text-anchor="middle" fill="#7592d6" stroke="#7592d6" stroke-width="0.25">AAGTC––––––––––––––––––––––––––––––––––––––CCAGTACACGCGCGCTTCCGCGTCGCCACAGAGCTGA–––––––––––––––––––––––––––––––––</text>
<text x="1.10" y="273.40" font-family="Liberation Mono" font-size="7.194" font-weight="bold" fill="#cf8a7e">Human</text>
<text transform="scale(0.82,1)" x="35.56 40.82 46.09 51.35 56.62 61.88 67.15 72.41 77.68 82.94 88.21 93.47 98.73 104.00 109.26 114.53 119.79 125.06 130.32 135.59 140.85 146.12 151.38 156.65 161.91 167.18 172.44 177.70 182.97 188.23 193.50 198.76 204.03 209.29 214.56 219.82 225.09 230.35 235.62 240.88 246.14 251.41 256.67 261.94 267.20 272.47 277.73 283.00 288.26 293.53 298.79 304.06 309.32 314.58 319.85 325.11 330.38 335.64 340.91 346.17 351.44 356.70 361.97 367.23 372.50 377.76 383.03 388.29 393.55 398.82 404.08 409.35 414.61 419.88 425.14 430.41 435.67 440.94 446.20 451.47 456.73 461.99 467.26 472.52 477.79 483.05 488.32 493.58 498.85 504.11 509.38 514.64 519.91 525.17 530.43 535.70 540.96 546.23 551.49 556.76 562.02 567.29 572.55 577.82 583.08 588.35 593.61 598.88 604.14 609.40 614.67 619.93 625.20" y="273.40" font-family="Liberation Serif" font-size="6.4" font-weight="normal" text-anchor="middle" fill="#c0554b" stroke="#c0554b" stroke-width="0.25">AAGTCACAGGTGCAACAACGTGCCAGAAACTGGATCCGGAGCCCCAGGGCGCAAGATCTCCCGCAGCGTCACCCGGCAGAGGGAACGGGTGTGGCCACCGGGCGCGGCAGGTC</text>
<circle cx="29.16" cy="278.45" r="0.95" fill="#2a2a2a"/>
<circle cx="33.48" cy="278.45" r="0.95" fill="#2a2a2a"/>
<circle cx="37.79" cy="278.45" r="0.95" fill="#2a2a2a"/>
<circle cx="42.11" cy="278.45" r="0.95" fill="#2a2a2a"/>
<circle cx="46.43" cy="278.45" r="0.95" fill="#2a2a2a"/>
<circle cx="219.11" cy="278.45" r="0.95" fill="#2a2a2a"/>
<circle cx="223.42" cy="278.45" r="0.95" fill="#2a2a2a"/>
<circle cx="227.74" cy="278.45" r="0.95" fill="#2a2a2a"/>
<circle cx="240.69" cy="278.45" r="0.95" fill="#2a2a2a"/>
<circle cx="249.33" cy="278.45" r="0.95" fill="#2a2a2a"/>
<circle cx="262.28" cy="278.45" r="0.95" fill="#2a2a2a"/>
<circle cx="275.23" cy="278.45" r="0.95" fill="#2a2a2a"/>
<circle cx="279.54" cy="278.45" r="0.95" fill="#2a2a2a"/>
<circle cx="288.18" cy="278.45" r="0.95" fill="#2a2a2a"/>
<circle cx="292.50" cy="278.45" r="0.95" fill="#2a2a2a"/>
<circle cx="296.81" cy="278.45" r="0.95" fill="#2a2a2a"/>
<circle cx="301.13" cy="278.45" r="0.95" fill="#2a2a2a"/>
<circle cx="314.08" cy="278.45" r="0.95" fill="#2a2a2a"/>
<circle cx="318.40" cy="278.45" r="0.95" fill="#2a2a2a"/>
<circle cx="327.03" cy="278.45" r="0.95" fill="#2a2a2a"/>
<circle cx="331.35" cy="278.45" r="0.95" fill="#2a2a2a"/>
<circle cx="335.67" cy="278.45" r="0.95" fill="#2a2a2a"/>
<circle cx="352.93" cy="278.45" r="0.95" fill="#2a2a2a"/>
<circle cx="357.25" cy="278.45" r="0.95" fill="#2a2a2a"/>
<circle cx="365.88" cy="278.45" r="0.95" fill="#2a2a2a"/>
<circle cx="370.20" cy="278.45" r="0.95" fill="#2a2a2a"/>
<text x="1.10" y="298.10" font-family="Liberation Mono" font-size="7.194" font-weight="bold" fill="#3c3c3c">Mouse</text>
<text transform="scale(0.82,1)" x="35.56 40.82 46.09 51.35 56.62 61.88 67.15 72.41 77.68 82.94 88.21 93.47 98.73 104.00 109.26 114.53 119.79 125.06 130.32 135.59 140.85 146.12 151.38 156.65 161.91 167.18 172.44 177.70 182.97 188.23 193.50 198.76 204.03 209.29 214.56 219.82 225.09 230.35 235.62 240.88 246.14 251.41 256.67 261.94 267.20 272.47 277.73 283.00 288.26 293.53 298.79 304.06 309.32 314.58 319.85 325.11 330.38 335.64 340.91 346.17 351.44 356.70 361.97 367.23 372.50 377.76 383.03 388.29 393.55 398.82 404.08 409.35 414.61 419.88 425.14 430.41 435.67 440.94 446.20 451.47 456.73 461.99 467.26 472.52 477.79 483.05 488.32 493.58 498.85 504.11 509.38 514.64 519.91 525.17 530.43 535.70 540.96 546.23 551.49 556.76 562.02 567.29 572.55 577.82 583.08 588.35 593.61 598.88 604.14 609.40 614.67 619.93 625.20" y="298.10" font-family="Liberation Serif" font-size="6.4" font-weight="normal" text-anchor="middle" fill="#222222" stroke="#222222" stroke-width="0.25">–––––––––––––––––––––––––––––––––––––––––CCCGGGCCCGCGTGGGAGAAACTCGGAACGACCTTGGTGGCGGGCCTC––AGT––CCC––––––––––––CG</text>
<text x="1.10" y="306.15" font-family="Liberation Mono" font-size="7.194" font-weight="bold" fill="#a2b3d6">Rat</text>
<text transform="scale(0.82,1)" x="35.56 40.82 46.09 51.35 56.62 61.88 67.15 72.41 77.68 82.94 88.21 93.47 98.73 104.00 109.26 114.53 119.79 125.06 130.32 135.59 140.85 146.12 151.38 156.65 161.91 167.18 172.44 177.70 182.97 188.23 193.50 198.76 204.03 209.29 214.56 219.82 225.09 230.35 235.62 240.88 246.14 251.41 256.67 261.94 267.20 272.47 277.73 283.00 288.26 293.53 298.79 304.06 309.32 314.58 319.85 325.11 330.38 335.64 340.91 346.17 351.44 356.70 361.97 367.23 372.50 377.76 383.03 388.29 393.55 398.82 404.08 409.35 414.61 419.88 425.14 430.41 435.67 440.94 446.20 451.47 456.73 461.99 467.26 472.52 477.79 483.05 488.32 493.58 498.85 504.11 509.38 514.64 519.91 525.17 530.43 535.70 540.96 546.23 551.49 556.76 562.02 567.29 572.55 577.82 583.08 588.35 593.61 598.88 604.14 609.40 614.67 619.93 625.20" y="306.15" font-family="Liberation Serif" font-size="6.4" font-weight="normal" text-anchor="middle" fill="#7592d6" stroke="#7592d6" stroke-width="0.25">–––––––––––––––––––––––––––––––––––––––––CCCGAGCTCGCGTGGGAGAAACTCGGAACGACCTTGGTGGCGGGCCTCTGAGT––CCCAGCATGTGGACCTG</text>
<text x="1.10" y="314.20" font-family="Liberation Mono" font-size="7.194" font-weight="bold" fill="#cf8a7e">Human</text>
<text transform="scale(0.82,1)" x="35.56 40.82 46.09 51.35 56.62 61.88 67.15 72.41 77.68 82.94 88.21 93.47 98.73 104.00 109.26 114.53 119.79 125.06 130.32 135.59 140.85 146.12 151.38 156.65 161.91 167.18 172.44 177.70 182.97 188.23 193.50 198.76 204.03 209.29 214.56 219.82 225.09 230.35 235.62 240.88 246.14 251.41 256.67 261.94 267.20 272.47 277.73 283.00 288.26 293.53 298.79 304.06 309.32 314.58 319.85 325.11 330.38 335.64 340.91 346.17 351.44 356.70 361.97 367.23 372.50 377.76 383.03 388.29 393.55 398.82 404.08 409.35 414.61 419.88 425.14 430.41 435.67 440.94 446.20 451.47 456.73 461.99 467.26 472.52 477.79 483.05 488.32 493.58 498.85 504.11 509.38 514.64 519.91 525.17 530.43 535.70 540.96 546.23 551.49 556.76 562.02 567.29 572.55 577.82 583.08 588.35 593.61 598.88 604.14 609.40 614.67 619.93 625.20" y="314.20" font-family="Liberation Serif" font-size="6.4" font-weight="normal" text-anchor="middle" fill="#c0554b" stroke="#c0554b" stroke-width="0.25">CTGCGTGCGCTGAAAGTGCGGCTGGAGCGCGCGGACGGCTTTCCGGAGCCCCGAGAGAGGAGCTAGGAATGACTTTGGTCGCAGGCCTC––TGTAACCC––––––––––––CG</text>
<circle cx="210.47" cy="319.25" r="0.95" fill="#2a2a2a"/>
<circle cx="214.79" cy="319.25" r="0.95" fill="#2a2a2a"/>
<circle cx="219.11" cy="319.25" r="0.95" fill="#2a2a2a"/>
<circle cx="240.69" cy="319.25" r="0.95" fill="#2a2a2a"/>
<circle cx="249.33" cy="319.25" r="0.95" fill="#2a2a2a"/>
<circle cx="253.64" cy="319.25" r="0.95" fill="#2a2a2a"/>
<circle cx="262.28" cy="319.25" r="0.95" fill="#2a2a2a"/>
<circle cx="270.91" cy="319.25" r="0.95" fill="#2a2a2a"/>
<circle cx="275.23" cy="319.25" r="0.95" fill="#2a2a2a"/>
<circle cx="279.54" cy="319.25" r="0.95" fill="#2a2a2a"/>
<circle cx="288.18" cy="319.25" r="0.95" fill="#2a2a2a"/>
<circle cx="296.81" cy="319.25" r="0.95" fill="#2a2a2a"/>
<circle cx="301.13" cy="319.25" r="0.95" fill="#2a2a2a"/>
<circle cx="309.76" cy="319.25" r="0.95" fill="#2a2a2a"/>
<circle cx="314.08" cy="319.25" r="0.95" fill="#2a2a2a"/>
<circle cx="318.40" cy="319.25" r="0.95" fill="#2a2a2a"/>
<circle cx="322.71" cy="319.25" r="0.95" fill="#2a2a2a"/>
<circle cx="331.35" cy="319.25" r="0.95" fill="#2a2a2a"/>
<circle cx="335.67" cy="319.25" r="0.95" fill="#2a2a2a"/>
<circle cx="339.98" cy="319.25" r="0.95" fill="#2a2a2a"/>
<circle cx="348.62" cy="319.25" r="0.95" fill="#2a2a2a"/>
<circle cx="352.93" cy="319.25" r="0.95" fill="#2a2a2a"/>
<circle cx="357.25" cy="319.25" r="0.95" fill="#2a2a2a"/>
<circle cx="361.57" cy="319.25" r="0.95" fill="#2a2a2a"/>
<circle cx="365.88" cy="319.25" r="0.95" fill="#2a2a2a"/>
<circle cx="374.52" cy="319.25" r="0.95" fill="#2a2a2a"/>
<circle cx="378.84" cy="319.25" r="0.95" fill="#2a2a2a"/>
<circle cx="387.47" cy="319.25" r="0.95" fill="#2a2a2a"/>
<circle cx="391.79" cy="319.25" r="0.95" fill="#2a2a2a"/>
<circle cx="396.10" cy="319.25" r="0.95" fill="#2a2a2a"/>
<circle cx="400.42" cy="319.25" r="0.95" fill="#2a2a2a"/>
<circle cx="404.74" cy="319.25" r="0.95" fill="#2a2a2a"/>
<circle cx="409.05" cy="319.25" r="0.95" fill="#2a2a2a"/>
<circle cx="426.32" cy="319.25" r="0.95" fill="#2a2a2a"/>
<circle cx="430.64" cy="319.25" r="0.95" fill="#2a2a2a"/>
<circle cx="443.59" cy="319.25" r="0.95" fill="#2a2a2a"/>
<circle cx="447.91" cy="319.25" r="0.95" fill="#2a2a2a"/>
<circle cx="452.22" cy="319.25" r="0.95" fill="#2a2a2a"/>
<circle cx="512.66" cy="319.25" r="0.95" fill="#2a2a2a"/>
<text x="1.10" y="338.90" font-family="Liberation Mono" font-size="7.194" font-weight="bold" fill="#3c3c3c">Mouse</text>
<text transform="scale(0.82,1)" x="35.56 40.82 46.09 51.35 56.62 61.88 67.15 72.41 77.68 82.94 88.21 93.47 98.73 104.00 109.26 114.53 119.79 125.06 130.32 135.59 140.85 146.12 151.38 156.65 161.91 167.18 172.44 177.70 182.97 188.23 193.50 198.76 204.03 209.29 214.56 219.82 225.09 230.35 235.62 240.88 246.14 251.41 256.67 261.94 267.20 272.47 277.73 283.00 288.26 293.53 298.79 304.06 309.32 314.58 319.85 325.11 330.38 335.64 340.91 346.17 351.44 356.70 361.97 367.23 372.50 377.76 383.03 388.29 393.55 398.82 404.08 409.35 414.61 419.88 425.14 430.41 435.67 440.94 446.20 451.47 456.73 461.99 467.26 472.52 477.79 483.05 488.32 493.58 498.85 504.11 509.38 514.64 519.91 525.17 530.43 535.70 540.96 546.23 551.49 556.76 562.02 567.29 572.55 577.82 583.08 588.35 593.61 598.88 604.14 609.40 614.67 619.93 625.20" y="338.90" font-family="Liberation Serif" font-size="6.4" font-weight="normal" text-anchor="middle" fill="#222222" stroke="#222222" stroke-width="0.25">CGTG––––––TCTGGGCGAGAC––––––––TCCCCCACAGTCCCCGCCCGCAGCCACCCGGCGTGGCCAG–CGCAGACAGGATAAACCCGGGCGAGGCTGCAGGGAGGCGGCC</text>
<text x="1.10" y="346.95" font-family="Liberation Mono" font-size="7.194" font-weight="bold" fill="#a2b3d6">Rat</text>
<text transform="scale(0.82,1)" x="35.56 40.82 46.09 51.35 56.62 61.88 67.15 72.41 77.68 82.94 88.21 93.47 98.73 104.00 109.26 114.53 119.79 125.06 130.32 135.59 140.85 146.12 151.38 156.65 161.91 167.18 172.44 177.70 182.97 188.23 193.50 198.76 204.03 209.29 214.56 219.82 225.09 230.35 235.62 240.88 246.14 251.41 256.67 261.94 267.20 272.47 277.73 283.00 288.26 293.53 298.79 304.06 309.32 314.58 319.85 325.11 330.38 335.64 340.91 346.17 351.44 356.70 361.97 367.23 372.50 377.76 383.03 388.29 393.55 398.82 404.08 409.35 414.61 419.88 425.14 430.41 435.67 440.94 446.20 451.47 456.73 461.99 467.26 472.52 477.79 483.05 488.32 493.58 498.85 504.11 509.38 514.64 519.91 525.17 530.43 535.70 540.96 546.23 551.49 556.76 562.02 567.29 572.55 577.82 583.08 588.35 593.61 598.88 604.14 609.40 614.67 619.93 625.20" y="346.95" font-family="Liberation Serif" font-size="6.4" font-weight="normal" text-anchor="middle" fill="#7592d6" stroke="#7592d6" stroke-width="0.25">CGTG––––––CCTGGGCGAGAC––––––––TCCCCCACTGTCCCCGCCTGCAGCCACACGGCTTGGCCAG–CGCAGACAGGAAAACCCGGGCGAGGCTGCAGGGAGGAGGCTC</text>
<text x="1.10" y="355.00" font-family="Liberation Mono" font-size="7.194" font-weight="bold" fill="#cf8a7e">Human</text>
<text transform="scale(0.82,1)" x="35.56 40.82 46.09 51.35 56.62 61.88 67.15 72.41 77.68 82.94 88.21 93.47 98.73 104.00 109.26 114.53 119.79 125.06 130.32 135.59 140.85 146.12 151.38 156.65 161.91 167.18 172.44 177.70 182.97 188.23 193.50 198.76 204.03 209.29 214.56 219.82 225.09 230.35 235.62 240.88 246.14 251.41 256.67 261.94 267.20 272.47 277.73 283.00 288.26 293.53 298.79 304.06 309.32 314.58 319.85 325.11 330.38 335.64 340.91 346.17 351.44 356.70 361.97 367.23 372.50 377.76 383.03 388.29 393.55 398.82 404.08 409.35 414.61 419.88 425.14 430.41 435.67 440.94 446.20 451.47 456.73 461.99 467.26 472.52 477.79 483.05 488.32 493.58 498.85 504.11 509.38 514.64 519.91 525.17 530.43 535.70 540.96 546.23 551.49 556.76 562.02 567.29 572.55 577.82 583.08 588.35 593.61 598.88 604.14 609.40 614.67 619.93 625.20" y="355.00" font-family="Liberation Serif" font-size="6.4" font-weight="normal" text-anchor="middle" fill="#c0554b" stroke="#c0554b" stroke-width="0.25">CATGACGGCCTCTAGG–GGGACAGCGACGGTCCCCCTCGATCTCTGGCTGTAATCAGCCGGCGGGGCCAGACGGTGCCGAGACTT–CCAGGGCGAGGCCGCAGGGAGGGGGCT</text>
<circle cx="29.16" cy="360.05" r="0.95" fill="#2a2a2a"/>
<circle cx="37.79" cy="360.05" r="0.95" fill="#2a2a2a"/>
<circle cx="42.11" cy="360.05" r="0.95" fill="#2a2a2a"/>
<circle cx="76.65" cy="360.05" r="0.95" fill="#2a2a2a"/>
<circle cx="80.96" cy="360.05" r="0.95" fill="#2a2a2a"/>
<circle cx="89.60" cy="360.05" r="0.95" fill="#2a2a2a"/>
<circle cx="93.91" cy="360.05" r="0.95" fill="#2a2a2a"/>
<circle cx="102.55" cy="360.05" r="0.95" fill="#2a2a2a"/>
<circle cx="111.18" cy="360.05" r="0.95" fill="#2a2a2a"/>
<circle cx="115.50" cy="360.05" r="0.95" fill="#2a2a2a"/>
<circle cx="119.82" cy="360.05" r="0.95" fill="#2a2a2a"/>
<circle cx="158.67" cy="360.05" r="0.95" fill="#2a2a2a"/>
<circle cx="162.99" cy="360.05" r="0.95" fill="#2a2a2a"/>
<circle cx="167.30" cy="360.05" r="0.95" fill="#2a2a2a"/>
<circle cx="171.62" cy="360.05" r="0.95" fill="#2a2a2a"/>
<circle cx="175.94" cy="360.05" r="0.95" fill="#2a2a2a"/>
<circle cx="180.25" cy="360.05" r="0.95" fill="#2a2a2a"/>
<circle cx="188.89" cy="360.05" r="0.95" fill="#2a2a2a"/>
<circle cx="201.84" cy="360.05" r="0.95" fill="#2a2a2a"/>
<circle cx="206.16" cy="360.05" r="0.95" fill="#2a2a2a"/>
<circle cx="214.79" cy="360.05" r="0.95" fill="#2a2a2a"/>
<circle cx="223.42" cy="360.05" r="0.95" fill="#2a2a2a"/>
<circle cx="232.06" cy="360.05" r="0.95" fill="#2a2a2a"/>
<circle cx="240.69" cy="360.05" r="0.95" fill="#2a2a2a"/>
<circle cx="249.33" cy="360.05" r="0.95" fill="#2a2a2a"/>
<circle cx="262.28" cy="360.05" r="0.95" fill="#2a2a2a"/>
<circle cx="266.59" cy="360.05" r="0.95" fill="#2a2a2a"/>
<circle cx="279.54" cy="360.05" r="0.95" fill="#2a2a2a"/>
<circle cx="283.86" cy="360.05" r="0.95" fill="#2a2a2a"/>
<circle cx="288.18" cy="360.05" r="0.95" fill="#2a2a2a"/>
<circle cx="292.50" cy="360.05" r="0.95" fill="#2a2a2a"/>
<circle cx="305.45" cy="360.05" r="0.95" fill="#2a2a2a"/>
<circle cx="309.76" cy="360.05" r="0.95" fill="#2a2a2a"/>
<circle cx="314.08" cy="360.05" r="0.95" fill="#2a2a2a"/>
<circle cx="318.40" cy="360.05" r="0.95" fill="#2a2a2a"/>
<circle cx="322.71" cy="360.05" r="0.95" fill="#2a2a2a"/>
<circle cx="327.03" cy="360.05" r="0.95" fill="#2a2a2a"/>
<circle cx="335.67" cy="360.05" r="0.95" fill="#2a2a2a"/>
<circle cx="339.98" cy="360.05" r="0.95" fill="#2a2a2a"/>
<circle cx="352.93" cy="360.05" r="0.95" fill="#2a2a2a"/>
<circle cx="361.57" cy="360.05" r="0.95" fill="#2a2a2a"/>
<circle cx="374.52" cy="360.05" r="0.95" fill="#2a2a2a"/>
<circle cx="378.84" cy="360.05" r="0.95" fill="#2a2a2a"/>
<circle cx="400.42" cy="360.05" r="0.95" fill="#2a2a2a"/>
<circle cx="404.74" cy="360.05" r="0.95" fill="#2a2a2a"/>
<circle cx="413.37" cy="360.05" r="0.95" fill="#2a2a2a"/>
<circle cx="417.69" cy="360.05" r="0.95" fill="#2a2a2a"/>
<circle cx="439.27" cy="360.05" r="0.95" fill="#2a2a2a"/>
<circle cx="469.49" cy="360.05" r="0.95" fill="#2a2a2a"/>
<circle cx="473.81" cy="360.05" r="0.95" fill="#2a2a2a"/>
<circle cx="486.76" cy="360.05" r="0.95" fill="#2a2a2a"/>
<circle cx="499.71" cy="360.05" r="0.95" fill="#2a2a2a"/>
<text x="1.10" y="379.70" font-family="Liberation Mono" font-size="7.194" font-weight="bold" fill="#3c3c3c">Mouse</text>
<text transform="scale(0.82,1)" x="35.56 40.82 46.09 51.35 56.62 61.88 67.15 72.41 77.68 82.94 88.21 93.47 98.73 104.00 109.26 114.53 119.79 125.06 130.32 135.59 140.85 146.12 151.38 156.65 161.91 167.18 172.44 177.70 182.97 188.23 193.50 198.76 204.03 209.29 214.56 219.82 225.09 230.35 235.62 240.88 246.14 251.41 256.67 261.94 267.20 272.47 277.73 283.00 288.26 293.53 298.79 304.06 309.32 314.58 319.85 325.11 330.38 335.64 340.91 346.17 351.44 356.70 361.97 367.23 372.50 377.76 383.03 388.29 393.55 398.82 404.08 409.35 414.61 419.88 425.14 430.41 435.67 440.94 446.20 451.47 456.73 461.99 467.26 472.52 477.79 483.05 488.32 493.58 498.85 504.11 509.38 514.64 519.91 525.17 530.43" y="379.70" font-family="Liberation Serif" font-size="6.4" font-weight="normal" text-anchor="middle" fill="#222222" stroke="#222222" stroke-width="0.25">AGCCAGTCCCACGTGGACCAGCTCCTCCGTTGGGGGCGGGGCC–CCGGGGACGTCCAGGCCAATCAGCGCCGCTGCCCAGCTCAACCCGGCTAGG</text>
<text transform="scale(0.82,1)" x="535.70 540.96 546.23 551.49 556.76 562.02 567.29 572.55 577.82 583.08 588.35 593.61 598.88 604.14 609.40 614.67 619.93 625.20" y="379.70" font-family="Liberation Serif" font-size="6.4" font-weight="bold" text-anchor="middle" fill="#111" stroke="#111" stroke-width="0.38">CGCGCCCGACCAGCCTGT</text>
<text x="1.10" y="387.75" font-family="Liberation Mono" font-size="7.194" font-weight="bold" fill="#a2b3d6">Rat</text>
<text transform="scale(0.82,1)" x="35.56 40.82 46.09 51.35 56.62 61.88 67.15 72.41 77.68 82.94 88.21 93.47 98.73 104.00 109.26 114.53 119.79 125.06 130.32 135.59 140.85 146.12 151.38 156.65 161.91 167.18 172.44 177.70 182.97 188.23 193.50 198.76 204.03 209.29 214.56 219.82 225.09 230.35 235.62 240.88 246.14 251.41 256.67 261.94 267.20 272.47 277.73 283.00 288.26 293.53 298.79 304.06 309.32 314.58 319.85 325.11 330.38 335.64 340.91 346.17 351.44 356.70 361.97 367.23 372.50 377.76 383.03 388.29 393.55 398.82 404.08 409.35 414.61 419.88 425.14 430.41 435.67 440.94 446.20 451.47 456.73 461.99 467.26 472.52 477.79 483.05 488.32 493.58 498.85 504.11 509.38 514.64 519.91 525.17 530.43" y="387.75" font-family="Liberation Serif" font-size="6.4" font-weight="normal" text-anchor="middle" fill="#7592d6" stroke="#7592d6" stroke-width="0.25">GGCCAGTCCCACGTGGACCAGCTCCCACGTTGGGGGCGGAGCC–TCGTGGACGTCTGGACCAATCAGCGCCGCTGCCCAGCTCAACCCGGCTAGG</text>
<text transform="scale(0.82,1)" x="535.70 540.96 546.23 551.49 556.76 562.02 567.29 572.55 577.82 583.08 588.35 593.61 598.88 604.14 609.40 614.67 619.93 625.20" y="387.75" font-family="Liberation Serif" font-size="6.4" font-weight="bold" text-anchor="middle" fill="#4f74d0" stroke="#4f74d0" stroke-width="0.38">CGCGCCCGACCAGGGTGT</text>
<text x="1.10" y="395.80" font-family="Liberation Mono" font-size="7.194" font-weight="bold" fill="#cf8a7e">Human</text>
<text transform="scale(0.82,1)" x="35.56 40.82 46.09 51.35 56.62 61.88 67.15 72.41 77.68 82.94 88.21 93.47 98.73 104.00 109.26 114.53 119.79 125.06 130.32 135.59 140.85 146.12 151.38 156.65 161.91 167.18 172.44 177.70 182.97 188.23 193.50 198.76 204.03 209.29 214.56 219.82 225.09 230.35 235.62 240.88 246.14 251.41 256.67 261.94 267.20 272.47 277.73 283.00 288.26 293.53 298.79 304.06 309.32 314.58 319.85 325.11 330.38 335.64 340.91 346.17 351.44 356.70 361.97 367.23 372.50 377.76 383.03 388.29 393.55 398.82 404.08 409.35 414.61 419.88 425.14 430.41 435.67 440.94 446.20 451.47 456.73 461.99 467.26 472.52 477.79 483.05 488.32 493.58 498.85 504.11 509.38 514.64 519.91 525.17 530.43" y="395.80" font-family="Liberation Serif" font-size="6.4" font-weight="normal" text-anchor="middle" fill="#c0554b" stroke="#c0554b" stroke-width="0.25">GTCCCGCCCCACGTGGACCGGCTCCCCCGCTGGGGGCGTGGCCGCCGAAGCGGGCCGGGCCAATGAGCGCCACCGTCGGGCTCAACCCGGCTGGG</text>
<text transform="scale(0.82,1)" x="535.70 540.96 546.23 551.49 556.76 562.02 567.29 572.55 577.82 583.08 588.35 593.61 598.88 604.14 609.40 614.67 619.93 625.20" y="395.80" font-family="Liberation Serif" font-size="6.4" font-weight="bold" text-anchor="middle" fill="#cc2e22" stroke="#cc2e22" stroke-width="0.38">CACGCCCGGCCGAGGAG–</text>
<circle cx="37.79" cy="400.85" r="0.95" fill="#2a2a2a"/>
<circle cx="42.11" cy="400.85" r="0.95" fill="#2a2a2a"/>
<circle cx="50.74" cy="400.85" r="0.95" fill="#2a2a2a"/>
<circle cx="59.38" cy="400.85" r="0.95" fill="#2a2a2a"/>
<circle cx="63.69" cy="400.85" r="0.95" fill="#2a2a2a"/>
<circle cx="68.01" cy="400.85" r="0.95" fill="#2a2a2a"/>
<circle cx="72.33" cy="400.85" r="0.95" fill="#2a2a2a"/>
<circle cx="76.65" cy="400.85" r="0.95" fill="#2a2a2a"/>
<circle cx="80.96" cy="400.85" r="0.95" fill="#2a2a2a"/>
<circle cx="85.28" cy="400.85" r="0.95" fill="#2a2a2a"/>
<circle cx="89.60" cy="400.85" r="0.95" fill="#2a2a2a"/>
<circle cx="93.91" cy="400.85" r="0.95" fill="#2a2a2a"/>
<circle cx="98.23" cy="400.85" r="0.95" fill="#2a2a2a"/>
<circle cx="102.55" cy="400.85" r="0.95" fill="#2a2a2a"/>
<circle cx="106.86" cy="400.85" r="0.95" fill="#2a2a2a"/>
<circle cx="115.50" cy="400.85" r="0.95" fill="#2a2a2a"/>
<circle cx="119.82" cy="400.85" r="0.95" fill="#2a2a2a"/>
<circle cx="124.13" cy="400.85" r="0.95" fill="#2a2a2a"/>
<circle cx="128.45" cy="400.85" r="0.95" fill="#2a2a2a"/>
<circle cx="132.77" cy="400.85" r="0.95" fill="#2a2a2a"/>
<circle cx="145.72" cy="400.85" r="0.95" fill="#2a2a2a"/>
<circle cx="150.03" cy="400.85" r="0.95" fill="#2a2a2a"/>
<circle cx="158.67" cy="400.85" r="0.95" fill="#2a2a2a"/>
<circle cx="162.99" cy="400.85" r="0.95" fill="#2a2a2a"/>
<circle cx="167.30" cy="400.85" r="0.95" fill="#2a2a2a"/>
<circle cx="171.62" cy="400.85" r="0.95" fill="#2a2a2a"/>
<circle cx="175.94" cy="400.85" r="0.95" fill="#2a2a2a"/>
<circle cx="180.25" cy="400.85" r="0.95" fill="#2a2a2a"/>
<circle cx="184.57" cy="400.85" r="0.95" fill="#2a2a2a"/>
<circle cx="188.89" cy="400.85" r="0.95" fill="#2a2a2a"/>
<circle cx="201.84" cy="400.85" r="0.95" fill="#2a2a2a"/>
<circle cx="206.16" cy="400.85" r="0.95" fill="#2a2a2a"/>
<circle cx="210.47" cy="400.85" r="0.95" fill="#2a2a2a"/>
<circle cx="223.42" cy="400.85" r="0.95" fill="#2a2a2a"/>
<circle cx="227.74" cy="400.85" r="0.95" fill="#2a2a2a"/>
<circle cx="240.69" cy="400.85" r="0.95" fill="#2a2a2a"/>
<circle cx="253.64" cy="400.85" r="0.95" fill="#2a2a2a"/>
<circle cx="262.28" cy="400.85" r="0.95" fill="#2a2a2a"/>
<circle cx="275.23" cy="400.85" r="0.95" fill="#2a2a2a"/>
<circle cx="283.86" cy="400.85" r="0.95" fill="#2a2a2a"/>
<circle cx="288.18" cy="400.85" r="0.95" fill="#2a2a2a"/>
<circle cx="292.50" cy="400.85" r="0.95" fill="#2a2a2a"/>
<circle cx="296.81" cy="400.85" r="0.95" fill="#2a2a2a"/>
<circle cx="301.13" cy="400.85" r="0.95" fill="#2a2a2a"/>
<circle cx="309.76" cy="400.85" r="0.95" fill="#2a2a2a"/>
<circle cx="314.08" cy="400.85" r="0.95" fill="#2a2a2a"/>
<circle cx="318.40" cy="400.85" r="0.95" fill="#2a2a2a"/>
<circle cx="322.71" cy="400.85" r="0.95" fill="#2a2a2a"/>
<circle cx="327.03" cy="400.85" r="0.95" fill="#2a2a2a"/>
<circle cx="331.35" cy="400.85" r="0.95" fill="#2a2a2a"/>
<circle cx="339.98" cy="400.85" r="0.95" fill="#2a2a2a"/>
<circle cx="348.62" cy="400.85" r="0.95" fill="#2a2a2a"/>
<circle cx="357.25" cy="400.85" r="0.95" fill="#2a2a2a"/>
<circle cx="370.20" cy="400.85" r="0.95" fill="#2a2a2a"/>
<circle cx="374.52" cy="400.85" r="0.95" fill="#2a2a2a"/>
<circle cx="378.84" cy="400.85" r="0.95" fill="#2a2a2a"/>
<circle cx="383.15" cy="400.85" r="0.95" fill="#2a2a2a"/>
<circle cx="387.47" cy="400.85" r="0.95" fill="#2a2a2a"/>
<circle cx="391.79" cy="400.85" r="0.95" fill="#2a2a2a"/>
<circle cx="396.10" cy="400.85" r="0.95" fill="#2a2a2a"/>
<circle cx="400.42" cy="400.85" r="0.95" fill="#2a2a2a"/>
<circle cx="404.74" cy="400.85" r="0.95" fill="#2a2a2a"/>
<circle cx="409.05" cy="400.85" r="0.95" fill="#2a2a2a"/>
<circle cx="413.37" cy="400.85" r="0.95" fill="#2a2a2a"/>
<circle cx="417.69" cy="400.85" r="0.95" fill="#2a2a2a"/>
<circle cx="422.01" cy="400.85" r="0.95" fill="#2a2a2a"/>
<circle cx="430.64" cy="400.85" r="0.95" fill="#2a2a2a"/>
<circle cx="434.96" cy="400.85" r="0.95" fill="#2a2a2a"/>
<circle cx="439.27" cy="400.85" r="0.95" fill="#2a2a2a"/>
<circle cx="447.91" cy="400.85" r="0.95" fill="#2a2a2a"/>
<circle cx="452.22" cy="400.85" r="0.95" fill="#2a2a2a"/>
<circle cx="456.54" cy="400.85" r="0.95" fill="#2a2a2a"/>
<circle cx="460.86" cy="400.85" r="0.95" fill="#2a2a2a"/>
<circle cx="465.18" cy="400.85" r="0.95" fill="#2a2a2a"/>
<circle cx="469.49" cy="400.85" r="0.95" fill="#2a2a2a"/>
<circle cx="478.13" cy="400.85" r="0.95" fill="#2a2a2a"/>
<circle cx="482.44" cy="400.85" r="0.95" fill="#2a2a2a"/>
<circle cx="508.35" cy="400.85" r="0.95" fill="#2a2a2a"/>
<text x="1.10" y="420.50" font-family="Liberation Mono" font-size="7.194" font-weight="bold" fill="#3c3c3c">Mouse</text>
<text transform="scale(0.82,1)" x="35.56 40.82 46.09 51.35 56.62 61.88 67.15 72.41 77.68 82.94 88.21 93.47 98.73 104.00 109.26 114.53 119.79 125.06 130.32 135.59 140.85 146.12 151.38 156.65 161.91 167.18 172.44 177.70 182.97 188.23 193.50 198.76 204.03 209.29 214.56 219.82 225.09 230.35 235.62 240.88 246.14 251.41 256.67 261.94 267.20 272.47 277.73 283.00 288.26 293.53 298.79 304.06 309.32 314.58 319.85 325.11 330.38 335.64 340.91 346.17 351.44 356.70 361.97 367.23 372.50 377.76 383.03 388.29 393.55 398.82 404.08 409.35 414.61 419.88 425.14 430.41 435.67 440.94 446.20 451.47 456.73 461.99 467.26 472.52 477.79 483.05 488.32 493.58 498.85 504.11 509.38 514.64 519.91 525.17 530.43 535.70 540.96 546.23 551.49 556.76 562.02 567.29 572.55 577.82 583.08 588.35" y="420.50" font-family="Liberation Serif" font-size="6.4" font-weight="bold" text-anchor="middle" fill="#111" stroke="#111" stroke-width="0.38">GGTTGCGTCACATCGGAGGCGGGACCTCCGGG–CGGGCGCGAGGCTCGGCAGG–TCACGTGGGGCGCAGAACCGGCTATAAATAAGGAGCCGGCGGCATGCTCT–C</text>
<text transform="scale(0.82,1)" x="593.61 598.88 604.14 609.40 614.67 619.93 625.20" y="420.50" font-family="Liberation Serif" font-size="6.4" font-weight="bold" text-anchor="middle" fill="#2a2a10" stroke="#2a2a10" stroke-width="0.38">TATA–TG</text>
<text x="1.10" y="428.55" font-family="Liberation Mono" font-size="7.194" font-weight="bold" fill="#a2b3d6">Rat</text>
<text transform="scale(0.82,1)" x="35.56 40.82 46.09 51.35 56.62 61.88 67.15 72.41 77.68 82.94 88.21 93.47 98.73 104.00 109.26 114.53 119.79 125.06 130.32 135.59 140.85 146.12 151.38 156.65 161.91 167.18 172.44 177.70 182.97 188.23 193.50 198.76 204.03 209.29 214.56 219.82 225.09 230.35 235.62 240.88 246.14 251.41 256.67 261.94 267.20 272.47 277.73 283.00 288.26 293.53 298.79 304.06 309.32 314.58 319.85 325.11 330.38 335.64 340.91 346.17 351.44 356.70 361.97 367.23 372.50 377.76 383.03 388.29 393.55 398.82 404.08 409.35 414.61 419.88 425.14 430.41 435.67 440.94 446.20 451.47 456.73 461.99 467.26 472.52 477.79 483.05 488.32 493.58 498.85 504.11 509.38 514.64 519.91 525.17 530.43 535.70 540.96 546.23 551.49 556.76 562.02 567.29 572.55 577.82 583.08 588.35" y="428.55" font-family="Liberation Serif" font-size="6.4" font-weight="bold" text-anchor="middle" fill="#4f74d0" stroke="#4f74d0" stroke-width="0.38">GGTTGCGTCATATGGGAGGCGGGACTTCCGGG–CGGGCGCGAGGCTCGGCAGG–TCACGTGGGGCGCGGAACCGGCTATAAATAAGGAGCCGGCGGCGTGCTCG–C</text>
<text transform="scale(0.82,1)" x="593.61 598.88 604.14 609.40 614.67 619.93 625.20" y="428.55" font-family="Liberation Serif" font-size="6.4" font-weight="bold" text-anchor="middle" fill="#9aa48a" stroke="#9aa48a" stroke-width="0.38">TAGA–TG</text>
<text x="1.10" y="436.60" font-family="Liberation Mono" font-size="7.194" font-weight="bold" fill="#cf8a7e">Human</text>
<text transform="scale(0.82,1)" x="35.56 40.82 46.09 51.35 56.62 61.88 67.15 72.41 77.68 82.94 88.21 93.47 98.73 104.00 109.26 114.53 119.79 125.06 130.32 135.59 140.85 146.12 151.38 156.65 161.91 167.18 172.44 177.70 182.97 188.23 193.50 198.76 204.03 209.29 214.56 219.82 225.09 230.35 235.62 240.88 246.14 251.41 256.67 261.94 267.20 272.47 277.73 283.00 288.26 293.53 298.79 304.06 309.32 314.58 319.85 325.11 330.38 335.64 340.91 346.17 351.44 356.70 361.97 367.23 372.50 377.76 383.03 388.29 393.55 398.82 404.08 409.35 414.61 419.88 425.14 430.41 435.67 440.94 446.20 451.47 456.73 461.99 467.26 472.52 477.79 483.05 488.32 493.58 498.85 504.11 509.38 514.64 519.91 525.17 530.43 535.70 540.96 546.23 551.49 556.76 562.02 567.29 572.55 577.82 583.08 588.35" y="436.60" font-family="Liberation Serif" font-size="6.4" font-weight="bold" text-anchor="middle" fill="#cc2e22" stroke="#cc2e22" stroke-width="0.38">GGCTGCGTCATGCCGGGGGCGGGGCTTCCGGGGCCGGCGCGAGGCGCGGCGGGGTCACGCGGGTCGCTGCGCCGGCTATAAGTAAGGGGCCGGCGGGGTGCTCCGC</text>
<text transform="scale(0.82,1)" x="593.61 598.88 604.14 609.40 614.67 619.93 625.20" y="436.60" font-family="Liberation Serif" font-size="6.4" font-weight="bold" text-anchor="middle" fill="#d2681c" stroke="#d2681c" stroke-width="0.38">TGGAGTG</text>
<circle cx="29.16" cy="441.65" r="0.95" fill="#2a2a2a"/>
<circle cx="33.48" cy="441.65" r="0.95" fill="#2a2a2a"/>
<circle cx="42.11" cy="441.65" r="0.95" fill="#2a2a2a"/>
<circle cx="46.43" cy="441.65" r="0.95" fill="#2a2a2a"/>
<circle cx="50.74" cy="441.65" r="0.95" fill="#2a2a2a"/>
<circle cx="55.06" cy="441.65" r="0.95" fill="#2a2a2a"/>
<circle cx="59.38" cy="441.65" r="0.95" fill="#2a2a2a"/>
<circle cx="63.69" cy="441.65" r="0.95" fill="#2a2a2a"/>
<circle cx="68.01" cy="441.65" r="0.95" fill="#2a2a2a"/>
<circle cx="89.60" cy="441.65" r="0.95" fill="#2a2a2a"/>
<circle cx="93.91" cy="441.65" r="0.95" fill="#2a2a2a"/>
<circle cx="102.55" cy="441.65" r="0.95" fill="#2a2a2a"/>
<circle cx="106.86" cy="441.65" r="0.95" fill="#2a2a2a"/>
<circle cx="111.18" cy="441.65" r="0.95" fill="#2a2a2a"/>
<circle cx="115.50" cy="441.65" r="0.95" fill="#2a2a2a"/>
<circle cx="119.82" cy="441.65" r="0.95" fill="#2a2a2a"/>
<circle cx="124.13" cy="441.65" r="0.95" fill="#2a2a2a"/>
<circle cx="132.77" cy="441.65" r="0.95" fill="#2a2a2a"/>
<circle cx="141.40" cy="441.65" r="0.95" fill="#2a2a2a"/>
<circle cx="145.72" cy="441.65" r="0.95" fill="#2a2a2a"/>
<circle cx="150.03" cy="441.65" r="0.95" fill="#2a2a2a"/>
<circle cx="154.35" cy="441.65" r="0.95" fill="#2a2a2a"/>
<circle cx="158.67" cy="441.65" r="0.95" fill="#2a2a2a"/>
<circle cx="162.99" cy="441.65" r="0.95" fill="#2a2a2a"/>
<circle cx="171.62" cy="441.65" r="0.95" fill="#2a2a2a"/>
<circle cx="180.25" cy="441.65" r="0.95" fill="#2a2a2a"/>
<circle cx="184.57" cy="441.65" r="0.95" fill="#2a2a2a"/>
<circle cx="188.89" cy="441.65" r="0.95" fill="#2a2a2a"/>
<circle cx="193.20" cy="441.65" r="0.95" fill="#2a2a2a"/>
<circle cx="197.52" cy="441.65" r="0.95" fill="#2a2a2a"/>
<circle cx="201.84" cy="441.65" r="0.95" fill="#2a2a2a"/>
<circle cx="206.16" cy="441.65" r="0.95" fill="#2a2a2a"/>
<circle cx="210.47" cy="441.65" r="0.95" fill="#2a2a2a"/>
<circle cx="214.79" cy="441.65" r="0.95" fill="#2a2a2a"/>
<circle cx="219.11" cy="441.65" r="0.95" fill="#2a2a2a"/>
<circle cx="227.74" cy="441.65" r="0.95" fill="#2a2a2a"/>
<circle cx="232.06" cy="441.65" r="0.95" fill="#2a2a2a"/>
<circle cx="236.37" cy="441.65" r="0.95" fill="#2a2a2a"/>
<circle cx="240.69" cy="441.65" r="0.95" fill="#2a2a2a"/>
<circle cx="249.33" cy="441.65" r="0.95" fill="#2a2a2a"/>
<circle cx="253.64" cy="441.65" r="0.95" fill="#2a2a2a"/>
<circle cx="262.28" cy="441.65" r="0.95" fill="#2a2a2a"/>
<circle cx="266.59" cy="441.65" r="0.95" fill="#2a2a2a"/>
<circle cx="270.91" cy="441.65" r="0.95" fill="#2a2a2a"/>
<circle cx="275.23" cy="441.65" r="0.95" fill="#2a2a2a"/>
<circle cx="279.54" cy="441.65" r="0.95" fill="#2a2a2a"/>
<circle cx="288.18" cy="441.65" r="0.95" fill="#2a2a2a"/>
<circle cx="292.50" cy="441.65" r="0.95" fill="#2a2a2a"/>
<circle cx="296.81" cy="441.65" r="0.95" fill="#2a2a2a"/>
<circle cx="305.45" cy="441.65" r="0.95" fill="#2a2a2a"/>
<circle cx="309.76" cy="441.65" r="0.95" fill="#2a2a2a"/>
<circle cx="314.08" cy="441.65" r="0.95" fill="#2a2a2a"/>
<circle cx="322.71" cy="441.65" r="0.95" fill="#2a2a2a"/>
<circle cx="335.67" cy="441.65" r="0.95" fill="#2a2a2a"/>
<circle cx="339.98" cy="441.65" r="0.95" fill="#2a2a2a"/>
<circle cx="344.30" cy="441.65" r="0.95" fill="#2a2a2a"/>
<circle cx="348.62" cy="441.65" r="0.95" fill="#2a2a2a"/>
<circle cx="352.93" cy="441.65" r="0.95" fill="#2a2a2a"/>
<circle cx="357.25" cy="441.65" r="0.95" fill="#2a2a2a"/>
<circle cx="361.57" cy="441.65" r="0.95" fill="#2a2a2a"/>
<circle cx="365.88" cy="441.65" r="0.95" fill="#2a2a2a"/>
<circle cx="370.20" cy="441.65" r="0.95" fill="#2a2a2a"/>
<circle cx="374.52" cy="441.65" r="0.95" fill="#2a2a2a"/>
<circle cx="383.15" cy="441.65" r="0.95" fill="#2a2a2a"/>
<circle cx="387.47" cy="441.65" r="0.95" fill="#2a2a2a"/>
<circle cx="391.79" cy="441.65" r="0.95" fill="#2a2a2a"/>
<circle cx="396.10" cy="441.65" r="0.95" fill="#2a2a2a"/>
<circle cx="400.42" cy="441.65" r="0.95" fill="#2a2a2a"/>
<circle cx="409.05" cy="441.65" r="0.95" fill="#2a2a2a"/>
<circle cx="413.37" cy="441.65" r="0.95" fill="#2a2a2a"/>
<circle cx="417.69" cy="441.65" r="0.95" fill="#2a2a2a"/>
<circle cx="422.01" cy="441.65" r="0.95" fill="#2a2a2a"/>
<circle cx="426.32" cy="441.65" r="0.95" fill="#2a2a2a"/>
<circle cx="430.64" cy="441.65" r="0.95" fill="#2a2a2a"/>
<circle cx="434.96" cy="441.65" r="0.95" fill="#2a2a2a"/>
<circle cx="439.27" cy="441.65" r="0.95" fill="#2a2a2a"/>
<circle cx="452.22" cy="441.65" r="0.95" fill="#2a2a2a"/>
<circle cx="456.54" cy="441.65" r="0.95" fill="#2a2a2a"/>
<circle cx="460.86" cy="441.65" r="0.95" fill="#2a2a2a"/>
<circle cx="465.18" cy="441.65" r="0.95" fill="#2a2a2a"/>
<circle cx="469.49" cy="441.65" r="0.95" fill="#2a2a2a"/>
<circle cx="482.44" cy="441.65" r="0.95" fill="#2a2a2a"/>
<circle cx="486.76" cy="441.65" r="0.95" fill="#2a2a2a"/>
<circle cx="499.71" cy="441.65" r="0.95" fill="#2a2a2a"/>
<circle cx="508.35" cy="441.65" r="0.95" fill="#2a2a2a"/>
<circle cx="512.66" cy="441.65" r="0.95" fill="#2a2a2a"/>
<text x="1.10" y="462.40" font-family="Liberation Mono" font-size="7.194" font-weight="bold" fill="#3c3c3c">Mouse</text>
<text transform="scale(0.82,1)" x="35.56 40.82 46.09 51.35 56.62 61.88 67.15 72.41 77.68 82.94 88.21 93.47 98.73 104.00 109.26 114.53 119.79 125.06 130.32 135.59 140.85" y="462.40" font-family="Liberation Serif" font-size="6.4" font-weight="normal" text-anchor="middle" fill="#2a2a10" stroke="#2a2a10" stroke-width="0.25">ATGGCCGCCGGCGCGCGTTGC</text>
<text x="1.10" y="470.45" font-family="Liberation Mono" font-size="7.194" font-weight="bold" fill="#a2b3d6">Rat</text>
<text transform="scale(0.82,1)" x="35.56 40.82 46.09 51.35 56.62 61.88 67.15 72.41 77.68 82.94 88.21 93.47 98.73 104.00 109.26 114.53 119.79 125.06 130.32 135.59 140.85" y="470.45" font-family="Liberation Serif" font-size="6.4" font-weight="normal" text-anchor="middle" fill="#9aa48a" stroke="#9aa48a" stroke-width="0.25">ATGGCCGCCGGCGCGCATTGC</text>
<text x="1.10" y="478.50" font-family="Liberation Mono" font-size="7.194" font-weight="bold" fill="#cf8a7e">Human</text>
<text transform="scale(0.82,1)" x="35.56 40.82 46.09 51.35 56.62 61.88 67.15 72.41 77.68 82.94 88.21 93.47 98.73 104.00 109.26 114.53 119.79 125.06 130.32 135.59 140.85" y="478.50" font-family="Liberation Serif" font-size="6.4" font-weight="normal" text-anchor="middle" fill="#d2681c" stroke="#d2681c" stroke-width="0.25">ATGGCTGCCGGCGCTCTCTGC</text>
<circle cx="29.16" cy="483.55" r="0.95" fill="#2a2a2a"/>
<circle cx="33.48" cy="483.55" r="0.95" fill="#2a2a2a"/>
<circle cx="37.79" cy="483.55" r="0.95" fill="#2a2a2a"/>
<circle cx="42.11" cy="483.55" r="0.95" fill="#2a2a2a"/>
<circle cx="46.43" cy="483.55" r="0.95" fill="#2a2a2a"/>
<circle cx="55.06" cy="483.55" r="0.95" fill="#2a2a2a"/>
<circle cx="59.38" cy="483.55" r="0.95" fill="#2a2a2a"/>
<circle cx="63.69" cy="483.55" r="0.95" fill="#2a2a2a"/>
<circle cx="68.01" cy="483.55" r="0.95" fill="#2a2a2a"/>
<circle cx="72.33" cy="483.55" r="0.95" fill="#2a2a2a"/>
<circle cx="76.65" cy="483.55" r="0.95" fill="#2a2a2a"/>
<circle cx="80.96" cy="483.55" r="0.95" fill="#2a2a2a"/>
<circle cx="85.28" cy="483.55" r="0.95" fill="#2a2a2a"/>
<circle cx="93.91" cy="483.55" r="0.95" fill="#2a2a2a"/>
<circle cx="106.86" cy="483.55" r="0.95" fill="#2a2a2a"/>
<circle cx="111.18" cy="483.55" r="0.95" fill="#2a2a2a"/>
<circle cx="115.50" cy="483.55" r="0.95" fill="#2a2a2a"/>
<line x1="337.82" y1="217.90" x2="376.68" y2="217.90" stroke="#666" stroke-width="0.6"/>
<text transform="scale(0.82,1)" x="588.35 593.61 598.88 604.14" y="461.80" font-family="Liberation Serif" font-size="6.4" font-weight="normal" text-anchor="middle" fill="#333" stroke="#333" stroke-width="0.25">+1bp</text>
<text x="1.20" y="500.30" font-family="Liberation Sans" font-size="11.5" font-weight="bold" text-anchor="start" fill="#000" >D</text>
<text x="3.80" y="511.00" font-family="Liberation Sans" font-size="5.9" font-weight="normal" text-anchor="start" fill="#222"  stroke="#222" stroke-width="0.12">(Bp)</text>
<line x1="5.35" y1="530.20" x2="5.35" y2="570.40" stroke="#efeaea" stroke-width="0.7"/>
<line x1="9.62" y1="530.20" x2="9.62" y2="570.40" stroke="#efeaea" stroke-width="0.7"/>
<line x1="13.89" y1="530.20" x2="13.89" y2="570.40" stroke="#efeaea" stroke-width="0.7"/>
<line x1="18.16" y1="530.20" x2="18.16" y2="570.40" stroke="#efeaea" stroke-width="0.7"/>
<line x1="22.43" y1="530.20" x2="22.43" y2="570.40" stroke="#efeaea" stroke-width="0.7"/>
<line x1="26.70" y1="530.20" x2="26.70" y2="570.40" stroke="#efeaea" stroke-width="0.7"/>
<line x1="30.97" y1="530.20" x2="30.97" y2="570.40" stroke="#efeaea" stroke-width="0.7"/>
<line x1="35.24" y1="530.20" x2="35.24" y2="570.40" stroke="#efeaea" stroke-width="0.7"/>
<line x1="39.51" y1="530.20" x2="39.51" y2="570.40" stroke="#efeaea" stroke-width="0.7"/>
<line x1="43.78" y1="530.20" x2="43.78" y2="570.40" stroke="#efeaea" stroke-width="0.7"/>
<line x1="48.05" y1="530.20" x2="48.05" y2="570.40" stroke="#efeaea" stroke-width="0.7"/>
<line x1="52.32" y1="530.20" x2="52.32" y2="570.40" stroke="#efeaea" stroke-width="0.7"/>
<line x1="56.59" y1="530.20" x2="56.59" y2="570.40" stroke="#efeaea" stroke-width="0.7"/>
<line x1="60.86" y1="530.20" x2="60.86" y2="570.40" stroke="#efeaea" stroke-width="0.7"/>
<line x1="65.13" y1="530.20" x2="65.13" y2="570.40" stroke="#efeaea" stroke-width="0.7"/>
<line x1="69.40" y1="530.20" x2="69.40" y2="570.40" stroke="#efeaea" stroke-width="0.7"/>
<line x1="73.67" y1="530.20" x2="73.67" y2="570.40" stroke="#efeaea" stroke-width="0.7"/>
<line x1="77.94" y1="530.20" x2="77.94" y2="570.40" stroke="#efeaea" stroke-width="0.7"/>
<line x1="82.21" y1="530.20" x2="82.21" y2="570.40" stroke="#efeaea" stroke-width="0.7"/>
<line x1="86.48" y1="530.20" x2="86.48" y2="570.40" stroke="#efeaea" stroke-width="0.7"/>
<line x1="90.75" y1="530.20" x2="90.75" y2="570.40" stroke="#efeaea" stroke-width="0.7"/>
<line x1="95.02" y1="530.20" x2="95.02" y2="570.40" stroke="#efeaea" stroke-width="0.7"/>
<line x1="99.29" y1="530.20" x2="99.29" y2="570.40" stroke="#efeaea" stroke-width="0.7"/>
<line x1="103.56" y1="530.20" x2="103.56" y2="570.40" stroke="#efeaea" stroke-width="0.7"/>
<line x1="107.83" y1="530.20" x2="107.83" y2="570.40" stroke="#efeaea" stroke-width="0.7"/>
<line x1="112.10" y1="530.20" x2="112.10" y2="570.40" stroke="#efeaea" stroke-width="0.7"/>
<line x1="116.37" y1="530.20" x2="116.37" y2="570.40" stroke="#efeaea" stroke-width="0.7"/>
<line x1="120.64" y1="530.20" x2="120.64" y2="570.40" stroke="#efeaea" stroke-width="0.7"/>
<line x1="124.91" y1="530.20" x2="124.91" y2="570.40" stroke="#efeaea" stroke-width="0.7"/>
<line x1="129.18" y1="530.20" x2="129.18" y2="570.40" stroke="#efeaea" stroke-width="0.7"/>
<line x1="133.45" y1="530.20" x2="133.45" y2="570.40" stroke="#efeaea" stroke-width="0.7"/>
<line x1="137.72" y1="530.20" x2="137.72" y2="570.40" stroke="#efeaea" stroke-width="0.7"/>
<line x1="141.99" y1="530.20" x2="141.99" y2="570.40" stroke="#efeaea" stroke-width="0.7"/>
<line x1="146.26" y1="530.20" x2="146.26" y2="570.40" stroke="#efeaea" stroke-width="0.7"/>
<line x1="150.53" y1="530.20" x2="150.53" y2="570.40" stroke="#efeaea" stroke-width="0.7"/>
<line x1="154.80" y1="530.20" x2="154.80" y2="570.40" stroke="#efeaea" stroke-width="0.7"/>
<line x1="159.07" y1="530.20" x2="159.07" y2="570.40" stroke="#efeaea" stroke-width="0.7"/>
<line x1="163.34" y1="530.20" x2="163.34" y2="570.40" stroke="#efeaea" stroke-width="0.7"/>
<line x1="167.61" y1="530.20" x2="167.61" y2="570.40" stroke="#efeaea" stroke-width="0.7"/>
<line x1="171.88" y1="530.20" x2="171.88" y2="570.40" stroke="#efeaea" stroke-width="0.7"/>
<line x1="176.15" y1="530.20" x2="176.15" y2="570.40" stroke="#efeaea" stroke-width="0.7"/>
<line x1="180.42" y1="530.20" x2="180.42" y2="570.40" stroke="#efeaea" stroke-width="0.7"/>
<line x1="184.69" y1="530.20" x2="184.69" y2="570.40" stroke="#efeaea" stroke-width="0.7"/>
<line x1="188.96" y1="530.20" x2="188.96" y2="570.40" stroke="#efeaea" stroke-width="0.7"/>
<line x1="193.23" y1="530.20" x2="193.23" y2="570.40" stroke="#efeaea" stroke-width="0.7"/>
<line x1="197.50" y1="530.20" x2="197.50" y2="570.40" stroke="#efeaea" stroke-width="0.7"/>
<line x1="201.77" y1="530.20" x2="201.77" y2="570.40" stroke="#efeaea" stroke-width="0.7"/>
<line x1="206.04" y1="530.20" x2="206.04" y2="570.40" stroke="#efeaea" stroke-width="0.7"/>
<line x1="210.31" y1="530.20" x2="210.31" y2="570.40" stroke="#efeaea" stroke-width="0.7"/>
<line x1="214.58" y1="530.20" x2="214.58" y2="570.40" stroke="#efeaea" stroke-width="0.7"/>
<line x1="218.85" y1="530.20" x2="218.85" y2="570.40" stroke="#efeaea" stroke-width="0.7"/>
<line x1="223.12" y1="530.20" x2="223.12" y2="570.40" stroke="#efeaea" stroke-width="0.7"/>
<line x1="227.39" y1="530.20" x2="227.39" y2="570.40" stroke="#efeaea" stroke-width="0.7"/>
<line x1="231.66" y1="530.20" x2="231.66" y2="570.40" stroke="#efeaea" stroke-width="0.7"/>
<line x1="235.93" y1="530.20" x2="235.93" y2="570.40" stroke="#efeaea" stroke-width="0.7"/>
<line x1="240.20" y1="530.20" x2="240.20" y2="570.40" stroke="#efeaea" stroke-width="0.7"/>
<line x1="244.47" y1="530.20" x2="244.47" y2="570.40" stroke="#efeaea" stroke-width="0.7"/>
<line x1="248.74" y1="530.20" x2="248.74" y2="570.40" stroke="#efeaea" stroke-width="0.7"/>
<line x1="253.01" y1="530.20" x2="253.01" y2="570.40" stroke="#efeaea" stroke-width="0.7"/>
<line x1="257.28" y1="530.20" x2="257.28" y2="570.40" stroke="#efeaea" stroke-width="0.7"/>
<line x1="261.55" y1="530.20" x2="261.55" y2="570.40" stroke="#efeaea" stroke-width="0.7"/>
<line x1="265.82" y1="530.20" x2="265.82" y2="570.40" stroke="#efeaea" stroke-width="0.7"/>
<line x1="270.09" y1="530.20" x2="270.09" y2="570.40" stroke="#efeaea" stroke-width="0.7"/>
<line x1="274.36" y1="530.20" x2="274.36" y2="570.40" stroke="#efeaea" stroke-width="0.7"/>
<line x1="278.63" y1="530.20" x2="278.63" y2="570.40" stroke="#efeaea" stroke-width="0.7"/>
<line x1="282.90" y1="530.20" x2="282.90" y2="570.40" stroke="#efeaea" stroke-width="0.7"/>
<line x1="287.17" y1="530.20" x2="287.17" y2="570.40" stroke="#efeaea" stroke-width="0.7"/>
<line x1="291.44" y1="530.20" x2="291.44" y2="570.40" stroke="#efeaea" stroke-width="0.7"/>
<line x1="295.71" y1="530.20" x2="295.71" y2="570.40" stroke="#efeaea" stroke-width="0.7"/>
<line x1="299.98" y1="530.20" x2="299.98" y2="570.40" stroke="#efeaea" stroke-width="0.7"/>
<line x1="304.25" y1="530.20" x2="304.25" y2="570.40" stroke="#efeaea" stroke-width="0.7"/>
<line x1="308.52" y1="530.20" x2="308.52" y2="570.40" stroke="#efeaea" stroke-width="0.7"/>
<line x1="312.79" y1="530.20" x2="312.79" y2="570.40" stroke="#efeaea" stroke-width="0.7"/>
<line x1="317.06" y1="530.20" x2="317.06" y2="570.40" stroke="#efeaea" stroke-width="0.7"/>
<line x1="321.33" y1="530.20" x2="321.33" y2="570.40" stroke="#efeaea" stroke-width="0.7"/>
<line x1="325.60" y1="530.20" x2="325.60" y2="570.40" stroke="#efeaea" stroke-width="0.7"/>
<line x1="329.87" y1="530.20" x2="329.87" y2="570.40" stroke="#efeaea" stroke-width="0.7"/>
<line x1="334.14" y1="530.20" x2="334.14" y2="570.40" stroke="#efeaea" stroke-width="0.7"/>
<line x1="338.41" y1="530.20" x2="338.41" y2="570.40" stroke="#efeaea" stroke-width="0.7"/>
<line x1="342.68" y1="530.20" x2="342.68" y2="570.40" stroke="#efeaea" stroke-width="0.7"/>
<line x1="346.95" y1="530.20" x2="346.95" y2="570.40" stroke="#efeaea" stroke-width="0.7"/>
<line x1="5.40" y1="525.20" x2="300.40" y2="525.20" stroke="#3a3a3a" stroke-width="0.9"/>
<line x1="30.16" y1="518.50" x2="30.16" y2="528.80" stroke="#333" stroke-width="0.9"/>
<text x="30.16" y="510.80" font-family="Liberation Sans" font-size="5.7" font-weight="normal" text-anchor="middle" fill="#222"  stroke="#222" stroke-width="0.12">-4000</text>
<line x1="63.94" y1="518.50" x2="63.94" y2="528.80" stroke="#333" stroke-width="0.9"/>
<text x="63.94" y="510.80" font-family="Liberation Sans" font-size="5.7" font-weight="normal" text-anchor="middle" fill="#222"  stroke="#222" stroke-width="0.12">-3500</text>
<line x1="97.72" y1="518.50" x2="97.72" y2="528.80" stroke="#333" stroke-width="0.9"/>
<text x="97.72" y="510.80" font-family="Liberation Sans" font-size="5.7" font-weight="normal" text-anchor="middle" fill="#222"  stroke="#222" stroke-width="0.12">-3000</text>
<line x1="131.50" y1="518.50" x2="131.50" y2="528.80" stroke="#333" stroke-width="0.9"/>
<text x="131.50" y="510.80" font-family="Liberation Sans" font-size="5.7" font-weight="normal" text-anchor="middle" fill="#222"  stroke="#222" stroke-width="0.12">-2500</text>
<line x1="165.28" y1="518.50" x2="165.28" y2="528.80" stroke="#333" stroke-width="0.9"/>
<text x="165.28" y="510.80" font-family="Liberation Sans" font-size="5.7" font-weight="normal" text-anchor="middle" fill="#222"  stroke="#222" stroke-width="0.12">-2000</text>
<line x1="199.06" y1="518.50" x2="199.06" y2="528.80" stroke="#333" stroke-width="0.9"/>
<text x="199.06" y="510.80" font-family="Liberation Sans" font-size="5.7" font-weight="normal" text-anchor="middle" fill="#222"  stroke="#222" stroke-width="0.12">-1500</text>
<line x1="232.84" y1="518.50" x2="232.84" y2="528.80" stroke="#333" stroke-width="0.9"/>
<text x="232.84" y="510.80" font-family="Liberation Sans" font-size="5.7" font-weight="normal" text-anchor="middle" fill="#222"  stroke="#222" stroke-width="0.12">-1000</text>
<line x1="266.62" y1="518.50" x2="266.62" y2="528.80" stroke="#333" stroke-width="0.9"/>
<text x="266.62" y="510.80" font-family="Liberation Sans" font-size="5.7" font-weight="normal" text-anchor="middle" fill="#222"  stroke="#222" stroke-width="0.12">-500</text>
<line x1="300.40" y1="518.50" x2="300.40" y2="528.80" stroke="#333" stroke-width="0.9"/>
<text x="300.40" y="510.80" font-family="Liberation Sans" font-size="5.7" font-weight="normal" text-anchor="middle" fill="#222"  stroke="#222" stroke-width="0.12">0</text>
<text x="115.40" y="544.30" font-family="Liberation Sans" font-size="3.48" font-weight="normal" text-anchor="start" fill="#b27a62"  stroke="#b27a62" stroke-width="0.12">KLF1 ChIP-seq signal on fetal liver erythroid progenitors from Bieker&#x27;s lab protocol</text>
<rect x="5.50" y="568.20" width="7.50" height="2.40" fill="#98553a" />
<rect x="13.00" y="569.20" width="18.50" height="1.40" fill="#98553a" />
<rect x="48.30" y="568.20" width="13.80" height="2.40" fill="#98553a" />
<rect x="66.10" y="569.40" width="12.70" height="1.20" fill="#98553a" />
<rect x="92.10" y="568.70" width="14.90" height="1.90" fill="#98553a" />
<rect x="127.70" y="569.10" width="5.30" height="1.50" fill="#98553a" />
<rect x="133.00" y="567.40" width="9.00" height="3.20" fill="#98553a" />
<rect x="142.00" y="568.80" width="5.50" height="1.80" fill="#98553a" />
<rect x="164.80" y="569.30" width="12.80" height="1.30" fill="#98553a" />
<polygon points="262.2,570.3 263.5,562.6 265.0,559.7 265.9,560.5 266.8,558.8 267.7,559.5 268.6,558.7 269.8,558.4 271.0,559.8 272.0,558.1 273.0,558.4 274.0,558.0 275.0,558.4 276.0,558.7 277.0,559.2 278.0,558.1 279.0,558.7 280.0,558.9 281.0,559.0 282.0,557.9 283.0,557.3 283.8,558.4 284.7,556.2 285.5,557.8 287.0,558.3 288.0,558.7 289.0,559.4 290.0,560.3 291.0,561.9 292.0,561.0 293.0,562.4 293.8,562.9 294.7,562.7 295.5,563.4 296.3,561.9 297.2,561.5 298.0,561.4 299.0,561.9 300.0,560.8 301.0,560.2 302.0,560.5 303.1,559.6 304.2,558.8 305.1,559.4 306.0,558.7 307.0,557.5 308.0,558.0 309.0,557.4 310.0,557.6 311.2,557.0 312.1,555.8 313.0,557.1 314.2,554.3 315.4,554.0 316.2,554.4 317.0,552.7 317.9,552.9 318.8,551.3 320.0,554.4 321.5,557.1 322.5,557.4 323.5,558.8 324.6,558.2 325.8,559.6 327.0,562.2 328.0,566.0 329.5,568.5 330.4,569.4 331.2,570.3" fill="#98553a"/>
<line x1="245.30" y1="570.00" x2="342.60" y2="570.00" stroke="#7a5548" stroke-width="1.0"/>
<rect x="300.3" y="534.4" width="14.2" height="6.8" fill="#f0ee10" stroke="#b0b060" stroke-width="0.5"/>
<line x1="314.50" y1="538.00" x2="345.80" y2="538.00" stroke="#5c4c9c" stroke-width="1.0"/>
<circle cx="345.8" cy="538.0" r="0.9" fill="#4a3c8c"/>
<rect x="313.90" y="536.80" width="1.80" height="2.40" fill="#333" />
<text x="355.80" y="503.10" font-family="Liberation Sans" font-size="11.5" font-weight="bold" text-anchor="start" fill="#000" >E</text>
<line x1="374.00" y1="605.80" x2="376.00" y2="605.80" stroke="#888" stroke-width="0.8"/>
<text x="372.30" y="608.00" font-family="Liberation Sans" font-size="6.3" font-weight="normal" text-anchor="end" fill="#222"  stroke="#222" stroke-width="0.12">0</text>
<line x1="376.00" y1="586.48" x2="519.50" y2="586.48" stroke="#c4c4c4" stroke-width="0.8"/>
<line x1="374.00" y1="586.48" x2="376.00" y2="586.48" stroke="#888" stroke-width="0.8"/>
<text x="372.30" y="588.68" font-family="Liberation Sans" font-size="6.3" font-weight="normal" text-anchor="end" fill="#222"  stroke="#222" stroke-width="0.12">4</text>
<line x1="376.00" y1="567.16" x2="519.50" y2="567.16" stroke="#c4c4c4" stroke-width="0.8"/>
<line x1="374.00" y1="567.16" x2="376.00" y2="567.16" stroke="#888" stroke-width="0.8"/>
<text x="372.30" y="569.36" font-family="Liberation Sans" font-size="6.3" font-weight="normal" text-anchor="end" fill="#222"  stroke="#222" stroke-width="0.12">8</text>
<line x1="376.00" y1="547.84" x2="519.50" y2="547.84" stroke="#c4c4c4" stroke-width="0.8"/>
<line x1="374.00" y1="547.84" x2="376.00" y2="547.84" stroke="#888" stroke-width="0.8"/>
<text x="372.30" y="550.04" font-family="Liberation Sans" font-size="6.3" font-weight="normal" text-anchor="end" fill="#222"  stroke="#222" stroke-width="0.12">12</text>
<line x1="376.00" y1="528.52" x2="519.50" y2="528.52" stroke="#c4c4c4" stroke-width="0.8"/>
<line x1="374.00" y1="528.52" x2="376.00" y2="528.52" stroke="#888" stroke-width="0.8"/>
<text x="372.30" y="530.72" font-family="Liberation Sans" font-size="6.3" font-weight="normal" text-anchor="end" fill="#222"  stroke="#222" stroke-width="0.12">16</text>
<line x1="376.00" y1="509.20" x2="519.50" y2="509.20" stroke="#c4c4c4" stroke-width="0.8"/>
<line x1="374.00" y1="509.20" x2="376.00" y2="509.20" stroke="#888" stroke-width="0.8"/>
<text x="372.30" y="511.40" font-family="Liberation Sans" font-size="6.3" font-weight="normal" text-anchor="end" fill="#222"  stroke="#222" stroke-width="0.12">20</text>
<line x1="376.00" y1="509.20" x2="376.00" y2="605.80" stroke="#888" stroke-width="0.8"/>
<line x1="376.00" y1="605.80" x2="519.50" y2="605.80" stroke="#888" stroke-width="0.8"/>
<line x1="376.00" y1="605.80" x2="376.00" y2="607.80" stroke="#888" stroke-width="0.8"/>
<line x1="404.10" y1="605.80" x2="404.10" y2="607.80" stroke="#888" stroke-width="0.8"/>
<line x1="432.20" y1="605.80" x2="432.20" y2="607.80" stroke="#888" stroke-width="0.8"/>
<line x1="460.30" y1="605.80" x2="460.30" y2="607.80" stroke="#888" stroke-width="0.8"/>
<line x1="488.40" y1="605.80" x2="488.40" y2="607.80" stroke="#888" stroke-width="0.8"/>
<line x1="516.50" y1="605.80" x2="516.50" y2="607.80" stroke="#888" stroke-width="0.8"/>
<g transform="translate(363.3,557) rotate(-90)">
<text x="0.00" y="0.00" font-family="Liberation Sans" font-size="5.93" font-weight="bold" text-anchor="middle" fill="#222"  stroke="#222" stroke-width="0.12">Input % enrichment</text>
</g>
<defs><pattern id="hatch" width="2" height="2" patternUnits="userSpaceOnUse" patternTransform="rotate(45)"><rect width="2" height="2" fill="#fff"/><line x1="0" y1="0" x2="0" y2="2" stroke="#000" stroke-width="1.1"/></pattern><pattern id="dots" width="1.5" height="1.5" patternUnits="userSpaceOnUse"><rect width="1.5" height="1.5" fill="#d4d4d4"/><rect width="0.75" height="0.75" fill="#9a9a9a"/></pattern></defs>
<rect x="380.40" y="597.11" width="5.8" height="8.69" fill="url(#dots)" stroke="#444" stroke-width="0.6"/>
<line x1="383.30" y1="592.76" x2="383.30" y2="597.11" stroke="#444" stroke-width="0.7"/>
<line x1="382.10" y1="592.76" x2="384.50" y2="592.76" stroke="#444" stroke-width="0.6"/>
<rect x="390.90" y="589.38" width="5.80" height="16.42" fill="#000" />
<line x1="393.80" y1="580.20" x2="393.80" y2="589.38" stroke="#000" stroke-width="0.7"/>
<line x1="392.60" y1="580.20" x2="395.00" y2="580.20" stroke="#000" stroke-width="0.6"/>
<rect x="396.70" y="605.32" width="5.2" height="0.48" fill="url(#hatch)" stroke="#000" stroke-width="0.6"/>
<text x="391.30" y="614.90" font-family="Liberation Sans" font-size="6.0" font-weight="normal" text-anchor="middle" fill="#222"  stroke="#222" stroke-width="0.12">-4496</text>
<text x="391.30" y="621.30" font-family="Liberation Sans" font-size="6.0" font-weight="normal" text-anchor="middle" fill="#222"  stroke="#222" stroke-width="0.12">-4340</text>
<rect x="408.70" y="599.04" width="5.8" height="6.76" fill="url(#dots)" stroke="#444" stroke-width="0.6"/>
<line x1="411.60" y1="595.66" x2="411.60" y2="599.04" stroke="#444" stroke-width="0.7"/>
<line x1="410.40" y1="595.66" x2="412.80" y2="595.66" stroke="#444" stroke-width="0.6"/>
<rect x="419.20" y="590.83" width="5.80" height="14.97" fill="#000" />
<line x1="422.10" y1="583.58" x2="422.10" y2="590.83" stroke="#000" stroke-width="0.7"/>
<line x1="420.90" y1="583.58" x2="423.30" y2="583.58" stroke="#000" stroke-width="0.6"/>
<rect x="425.00" y="605.32" width="5.2" height="0.48" fill="url(#hatch)" stroke="#000" stroke-width="0.6"/>
<text x="419.60" y="614.90" font-family="Liberation Sans" font-size="6.0" font-weight="normal" text-anchor="middle" fill="#222"  stroke="#222" stroke-width="0.12">-3643</text>
<text x="419.60" y="621.30" font-family="Liberation Sans" font-size="6.0" font-weight="normal" text-anchor="middle" fill="#222"  stroke="#222" stroke-width="0.12">-3505</text>
<rect x="437.10" y="597.11" width="5.8" height="8.69" fill="url(#dots)" stroke="#444" stroke-width="0.6"/>
<line x1="440.00" y1="593.72" x2="440.00" y2="597.11" stroke="#444" stroke-width="0.7"/>
<line x1="438.80" y1="593.72" x2="441.20" y2="593.72" stroke="#444" stroke-width="0.6"/>
<rect x="447.60" y="593.24" width="5.80" height="12.56" fill="#000" />
<line x1="450.50" y1="588.41" x2="450.50" y2="593.24" stroke="#000" stroke-width="0.7"/>
<line x1="449.30" y1="588.41" x2="451.70" y2="588.41" stroke="#000" stroke-width="0.6"/>
<rect x="453.40" y="605.32" width="5.2" height="0.48" fill="url(#hatch)" stroke="#000" stroke-width="0.6"/>
<text x="448.00" y="614.90" font-family="Liberation Sans" font-size="6.0" font-weight="normal" text-anchor="middle" fill="#222"  stroke="#222" stroke-width="0.12">-2661</text>
<text x="448.00" y="621.30" font-family="Liberation Sans" font-size="6.0" font-weight="normal" text-anchor="middle" fill="#222"  stroke="#222" stroke-width="0.12">-2496</text>
<rect x="465.20" y="600.73" width="5.8" height="5.07" fill="url(#dots)" stroke="#444" stroke-width="0.6"/>
<line x1="468.10" y1="598.07" x2="468.10" y2="600.73" stroke="#444" stroke-width="0.7"/>
<line x1="466.90" y1="598.07" x2="469.30" y2="598.07" stroke="#444" stroke-width="0.6"/>
<rect x="475.70" y="594.69" width="5.80" height="11.11" fill="#000" />
<line x1="478.60" y1="591.31" x2="478.60" y2="594.69" stroke="#000" stroke-width="0.7"/>
<line x1="477.40" y1="591.31" x2="479.80" y2="591.31" stroke="#000" stroke-width="0.6"/>
<rect x="481.50" y="605.32" width="5.2" height="0.48" fill="url(#hatch)" stroke="#000" stroke-width="0.6"/>
<text x="476.10" y="614.90" font-family="Liberation Sans" font-size="6.0" font-weight="normal" text-anchor="middle" fill="#222"  stroke="#222" stroke-width="0.12">-1609</text>
<text x="476.10" y="621.30" font-family="Liberation Sans" font-size="6.0" font-weight="normal" text-anchor="middle" fill="#222"  stroke="#222" stroke-width="0.12">-1449</text>
<rect x="493.50" y="590.34" width="5.8" height="15.46" fill="url(#dots)" stroke="#444" stroke-width="0.6"/>
<line x1="496.40" y1="585.51" x2="496.40" y2="590.34" stroke="#444" stroke-width="0.7"/>
<line x1="495.20" y1="585.51" x2="497.60" y2="585.51" stroke="#444" stroke-width="0.6"/>
<rect x="504.00" y="538.18" width="5.80" height="67.62" fill="#000" />
<line x1="506.90" y1="519.83" x2="506.90" y2="538.18" stroke="#000" stroke-width="0.7"/>
<line x1="505.70" y1="519.83" x2="508.10" y2="519.83" stroke="#000" stroke-width="0.6"/>
<rect x="509.80" y="600.00" width="5.2" height="5.80" fill="url(#hatch)" stroke="#000" stroke-width="0.6"/>
<text x="504.40" y="614.90" font-family="Liberation Sans" font-size="6.0" font-weight="normal" text-anchor="middle" fill="#222"  stroke="#222" stroke-width="0.12">-411</text>
<text x="504.40" y="621.30" font-family="Liberation Sans" font-size="6.0" font-weight="normal" text-anchor="middle" fill="#222"  stroke="#222" stroke-width="0.12">-276</text>
<text x="506.90" y="517.50" font-family="Liberation Sans" font-size="6.5" font-weight="bold" text-anchor="middle" fill="#222"  stroke="#222" stroke-width="0.12">*</text>
<text x="445.90" y="630.60" font-family="Liberation Sans" font-size="5.78" font-weight="bold" text-anchor="middle" fill="#222"  stroke="#222" stroke-width="0.12">Primer pairs position</text>
<rect x="387.7" y="515.50" width="3.0" height="3.0" fill="#fff" stroke="#444" stroke-width="0.6"/>
<text x="395.60" y="519.30" font-family="Liberation Sans" font-size="6.6" font-weight="normal" text-anchor="start" fill="#222"  stroke="#222" stroke-width="0.12">ChIP</text>
<rect x="387.7" y="523.70" width="3.0" height="3.0" fill="#ccc" stroke="#444" stroke-width="0.6"/>
<text x="395.60" y="527.50" font-family="Liberation Sans" font-size="6.6" font-weight="normal" text-anchor="start" fill="#222"  stroke="#222" stroke-width="0.12">Control</text>
<rect x="387.7" y="530.80" width="3.0" height="3.0" fill="#000"/>
<text x="395.60" y="534.60" font-family="Liberation Sans" font-size="6.6" font-weight="normal" text-anchor="start" fill="#222"  stroke="#222" stroke-width="0.12">ChIP</text>
<rect x="387.7" y="538.50" width="3.0" height="3.0" fill="url(#hatch)" stroke="#000" stroke-width="0.6"/>
<text x="395.60" y="542.30" font-family="Liberation Sans" font-size="6.6" font-weight="normal" text-anchor="start" fill="#222"  stroke="#222" stroke-width="0.12">Control</text>
<line x1="425.00" y1="529.00" x2="425.00" y2="542.50" stroke="#888" stroke-width="0.8"/>
<text x="431.30" y="539.20" font-family="Liberation Sans" font-size="6.9" font-weight="normal" text-anchor="start" fill="#222"  stroke="#222" stroke-width="0.12">24h β-estradiol</text>
</svg>
</body></html>
